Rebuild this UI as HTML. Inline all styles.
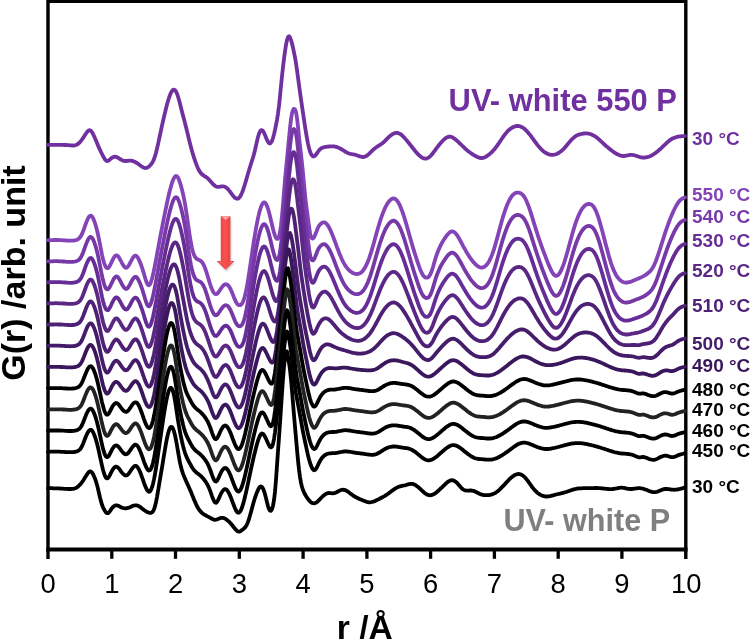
<!DOCTYPE html>
<html lang="en">
<head>
<meta charset="utf-8">
<title>G(r) PDF plot</title>
<style>
html,body{margin:0;padding:0;background:#fff;}
body{width:750px;height:639px;overflow:hidden;}
svg{display:block;}
svg text{font-family:"Liberation Sans",Arial,Helvetica,sans-serif;}
</style>
</head>
<body>
<svg width="750" height="639" viewBox="0 0 750 639">
<defs>
<linearGradient id="ag" x1="0" y1="0" x2="1" y2="0">
<stop offset="0" stop-color="#dc3a3c"/><stop offset="0.45" stop-color="#fb5050"/><stop offset="1" stop-color="#de3b3e"/>
</linearGradient>
<filter id="sh" x="-50%" y="-20%" width="200%" height="150%"><feGaussianBlur stdDeviation="1.2"/></filter>
</defs>
<rect width="750" height="639" fill="#fff"/>
<!-- frame -->
<g stroke="#000" fill="none">
<path d="M48 559 V1.2 H685.8 V559" stroke-width="3.4" stroke-linejoin="miter"/>
<line x1="46.2" y1="549.5" x2="687.5" y2="549.5" stroke-width="4"/>
<g stroke-width="3.3"><line x1="111.8" y1="549" x2="111.8" y2="558.8"/><line x1="175.5" y1="549" x2="175.5" y2="558.8"/><line x1="239.3" y1="549" x2="239.3" y2="558.8"/><line x1="303.1" y1="549" x2="303.1" y2="558.8"/><line x1="366.9" y1="549" x2="366.9" y2="558.8"/><line x1="430.6" y1="549" x2="430.6" y2="558.8"/><line x1="494.4" y1="549" x2="494.4" y2="558.8"/><line x1="558.2" y1="549" x2="558.2" y2="558.8"/><line x1="621.9" y1="549" x2="621.9" y2="558.8"/></g>
</g>
<g fill="none" stroke-width="3.8" stroke-linejoin="round" stroke-linecap="round">
<path d="M48 144.8L49 144.8L50 144.8L51 144.8L52 144.8L53 144.8L54 144.8L55 144.9L56 144.9L57 144.9L58 144.9L59 144.9L60 144.9L61 144.9L62 144.9L63 144.9L64 145L65 145L66 145L67 145.1L68 145.1L69 145.2L70 145.3L71 145.4L72 145.5L73 145.5L74 145.5L75 145.3L76 145L77 144.5L78 143.9L79 143.1L80 142.1L81 140.9L82 139.5L83 138.1L84 136.6L85 135L86 133.5L87 132.1L88 131L89 130.3L90 130.2L91 130.9L92 132.2L93 133.9L94 136L95 138.3L96 140.6L97 143L98 145.4L99 147.7L100 149.9L101 152L102 154L103 156L104 157.8L105 159.4L106 160.5L107 161L108 160.9L109 160.3L110 159.4L111 158.5L112 157.7L113 157.2L114 156.8L115 156.7L116 156.8L117 157.2L118 157.7L119 158.4L120 159L121 159.6L122 160.2L123 160.6L124 160.9L125 161L126 161L127 160.9L128 160.8L129 160.7L130 160.6L131 160.7L132 160.9L133 161.1L134 161.5L135 162L136 162.5L137 163.1L138 163.8L139 164.5L140 165.3L141 166L142 166.7L143 167.3L144 167.7L145 168L146 168L147 167.7L148 167.2L149 166.5L150 165.5L151 164.4L152 163.1L153 161.3L154 159.1L155 156.2L156 152.7L157 148.7L158 144.3L159 139.7L160 135L161 130.3L162 125.7L163 121.2L164 116.8L165 112.6L166 108.5L167 104.6L168 101L169 97.8L170 95L171 92.7L172 91L173 89.9L174 89.6L175 90.2L176 91.5L177 93.6L178 96.5L179 100L180 103.8L181 107.8L182 111.7L183 115.5L184 119.2L185 123.1L186 127L187 131.1L188 135.2L189 139.4L190 143.4L191 147.3L192 150.9L193 154.4L194 157.6L195 160.6L196 163.4L197 166L198 168.3L199 170.3L200 172L201 173.3L202 174.3L203 175.1L204 175.8L205 176.4L206 177L207 177.7L208 178.6L209 179.6L210 180.7L211 181.9L212 183L213 184.1L214 185L215 185.8L216 186.4L217 186.8L218 186.9L219 186.9L220 186.7L221 186.5L222 186.4L223 186.3L224 186.5L225 186.8L226 187.4L227 188.2L228 189.2L229 190.4L230 191.7L231 193L232 194.4L233 195.7L234 196.8L235 197.8L236 198.4L237 198.7L238 198.6L239 197.9L240 196.7L241 195L242 192.8L243 190.2L244 187.2L245 184L246 180.6L247 177.2L248 173.7L249 170.3L250 167L251 163.8L252 160.7L253 157.5L254 153.9L255 150L256 145.6L257 141.1L258 137L259 133.7L260 131.4L261 130.1L262 130.1L263 131L264 132.8L265 135L266 137.5L267 139.9L268 141.9L269 143.2L270 143.5L271 142.7L272 140.9L273 138L274 134.2L275 129.9L276 125.1L277 119.9L278 113.6L279 105.8L280 96.3L281 86.1L282 76.1L283 67.1L284 58.8L285 51.4L286 44.9L287 40L288 37.1L289 36.3L290 37.4L291 40L292 43.5L293 47.7L294 52.3L295 57.4L296 63.3L297 70.1L298 77.5L299 85L300 92.2L301 99.2L302 106.2L303 113L304 119.8L305 126.4L306 132.6L307 138.4L308 143.6L309 148L310 151.4L311 154L312 155.6L313 156.4L314 156.4L315 155.7L316 154.6L317 153.2L318 151.7L319 150.4L320 149.3L321 148.5L322 147.9L323 147.5L324 147.2L325 147L326 146.9L327 146.7L328 146.6L329 146.5L330 146.4L331 146.4L332 146.3L333 146.3L334 146.4L335 146.6L336 146.8L337 147.1L338 147.5L339 147.9L340 148.4L341 149L342 149.6L343 150.2L344 150.8L345 151.4L346 152.1L347 152.6L348 153.1L349 153.5L350 153.8L351 154L352 154.2L353 154.3L354 154.5L355 154.7L356 155L357 155.4L358 155.7L359 156.1L360 156.4L361 156.7L362 156.9L363 157L364 156.9L365 156.6L366 156.1L367 155.5L368 154.7L369 153.8L370 152.8L371 151.9L372 150.9L373 149.9L374 149L375 148.2L376 147.5L377 146.8L378 146.1L379 145.5L380 144.9L381 144.2L382 143.5L383 142.7L384 141.9L385 140.9L386 139.9L387 138.9L388 137.9L389 136.9L390 136L391 135.2L392 134.5L393 133.9L394 133.4L395 133.1L396 132.9L397 132.9L398 133L399 133.4L400 133.9L401 134.5L402 135.3L403 136.3L404 137.3L405 138.4L406 139.6L407 140.8L408 142L409 143.2L410 144.5L411 145.7L412 147L413 148.3L414 149.5L415 150.8L416 152L417 153.1L418 154.2L419 155.2L420 156.1L421 156.9L422 157.6L423 158.1L424 158.4L425 158.6L426 158.6L427 158.4L428 157.9L429 157.3L430 156.5L431 155.5L432 154.3L433 153L434 151.7L435 150.3L436 148.9L437 147.6L438 146.3L439 145L440 143.8L441 142.6L442 141.5L443 140.5L444 139.5L445 138.6L446 137.9L447 137.3L448 136.9L449 136.6L450 136.6L451 136.8L452 137.2L453 137.7L454 138.4L455 139.1L456 139.9L457 140.8L458 141.7L459 142.6L460 143.6L461 144.5L462 145.5L463 146.5L464 147.4L465 148.4L466 149.3L467 150.2L468 151L469 151.8L470 152.5L471 153.2L472 153.9L473 154.5L474 155.2L475 155.8L476 156.3L477 156.8L478 157.3L479 157.6L480 157.9L481 158L482 158L483 157.9L484 157.6L485 157.2L486 156.6L487 156L488 155.3L489 154.5L490 153.7L491 152.8L492 151.8L493 150.8L494 149.7L495 148.5L496 147.2L497 145.9L498 144.4L499 143L500 141.5L501 140L502 138.5L503 137.1L504 135.7L505 134.4L506 133.1L507 131.9L508 130.9L509 129.9L510 129.1L511 128.4L512 127.7L513 127.2L514 126.7L515 126.4L516 126.1L517 126L518 126L519 126.1L520 126.3L521 126.7L522 127.2L523 127.8L524 128.5L525 129.3L526 130.3L527 131.3L528 132.5L529 133.7L530 134.9L531 136.2L532 137.6L533 138.9L534 140.3L535 141.7L536 143L537 144.3L538 145.6L539 146.8L540 147.9L541 149L542 150L543 150.9L544 151.7L545 152.4L546 153L547 153.6L548 154L549 154.4L550 154.6L551 154.8L552 154.8L553 154.8L554 154.7L555 154.5L556 154.2L557 153.8L558 153.3L559 152.7L560 152L561 151.3L562 150.5L563 149.5L564 148.5L565 147.4L566 146.2L567 145L568 143.8L569 142.6L570 141.4L571 140.3L572 139.2L573 138.3L574 137.4L575 136.6L576 135.9L577 135.4L578 134.9L579 134.6L580 134.3L581 134L582 133.8L583 133.6L584 133.5L585 133.4L586 133.4L587 133.4L588 133.6L589 133.7L590 134L591 134.3L592 134.7L593 135.2L594 135.7L595 136.3L596 137L597 137.8L598 138.6L599 139.4L600 140.3L601 141.3L602 142.2L603 143.1L604 144.1L605 145L606 145.9L607 146.7L608 147.6L609 148.4L610 149.2L611 150L612 150.8L613 151.5L614 152.2L615 152.9L616 153.5L617 154L618 154.6L619 155L620 155.4L621 155.7L622 155.9L623 156L624 156L625 155.9L626 155.7L627 155.5L628 155.3L629 155.1L630 154.9L631 154.8L632 154.8L633 155L634 155.2L635 155.5L636 155.8L637 156.1L638 156.5L639 156.8L640 157.1L641 157.3L642 157.5L643 157.6L644 157.6L645 157.5L646 157.4L647 157.2L648 156.9L649 156.6L650 156.2L651 155.7L652 155.2L653 154.6L654 154L655 153.3L656 152.6L657 151.8L658 151L659 150.1L660 149.3L661 148.3L662 147.4L663 146.4L664 145.5L665 144.5L666 143.6L667 142.6L668 141.7L669 140.9L670 140.1L671 139.4L672 138.8L673 138.3L674 137.9L675 137.5L676 137.2L677 136.9L678 136.7L679 136.5L680 136.4L681 136.3L682 136.2L683 136.1L684 136.1L684.8 136.0" stroke="#7030a0"/>
<path d="M48 240.2L49 240.2L50 240.1L51 240.1L52 240.1L53 240.1L54 240L55 240L56 240L57 240L58 240L59 240.1L60 240.1L61 240.1L62 240.2L63 240.3L64 240.3L65 240.4L66 240.5L67 240.6L68 240.6L69 240.7L70 240.7L71 240.7L72 240.7L73 240.6L74 240.5L75 240.3L76 240.1L77 239.7L78 239.2L79 238.5L80 237.4L81 235.9L82 234L83 231.5L84 228.8L85 226L86 223.2L87 220.6L88 218.4L89 216.7L90 215.8L91 215.6L92 216.4L93 218.1L94 220.4L95 223.2L96 226.4L97 230.2L98 234.5L99 239.4L100 244.5L101 249.7L102 254.6L103 258.9L104 262.6L105 265.4L106 267.3L107 268.2L108 268.1L109 267.1L110 265.4L111 263.4L112 261.2L113 259.1L114 257.3L115 256L116 255.3L117 255.3L118 256.2L119 257.5L120 259.3L121 261.2L122 263.1L123 264.9L124 266.4L125 267.4L126 267.9L127 267.5L128 266.5L129 265L130 263.2L131 261.2L132 259.3L133 257.7L134 256.4L135 255.7L136 255.7L137 256.5L138 257.9L139 259.9L140 262.2L141 264.7L142 267.5L143 270.6L144 273.9L145 277.4L146 280.7L147 283.3L148 285L149 285.3L150 284.2L151 282L152 278.8L153 274.8L154 270.2L155 265.2L156 259.9L157 254.4L158 248.9L159 243.5L160 238.2L161 232.9L162 227.8L163 222.7L164 217.7L165 212.7L166 207.8L167 203L168 198.4L169 194L170 189.9L171 186.2L172 182.9L173 180.1L174 178L175 176.6L176 176L177 176.3L178 177.6L179 179.8L180 182.6L181 185.9L182 189.7L183 193.9L184 198.6L185 204L186 210L187 216.6L188 223.7L189 230.8L190 237.4L191 243.2L192 248.1L193 252L194 254.9L195 256.9L196 258.2L197 259L198 259.5L199 259.9L200 260.4L201 261.1L202 262.2L203 263.6L204 265.6L205 268L206 270.8L207 274L208 277.3L209 280.6L210 283.8L211 286.7L212 289.3L213 291.4L214 293L215 294L216 294.2L217 293.8L218 292.8L219 291.5L220 290L221 288.5L222 287.1L223 285.9L224 284.9L225 284.4L226 284.2L227 284.5L228 285.3L229 286.5L230 288.1L231 290.1L232 292.4L233 294.9L234 297.5L235 299.9L236 302L237 303.6L238 304.6L239 305.2L240 305.2L241 304.7L242 303.7L243 301.9L244 299.2L245 295.6L246 291.2L247 286L248 280.2L249 273.9L250 267.3L251 260.4L252 253.6L253 246.9L254 240.4L255 234.3L256 228.5L257 223.1L258 218.2L259 213.8L260 210L261 206.9L262 204.6L263 203L264 202.3L265 202.6L266 203.9L267 206L268 208.8L269 212.3L270 216.2L271 220.5L272 224.8L273 229L274 232.7L275 235.7L276 237.9L277 238.9L278 238.6L279 236.6L280 232.3L281 225.3L282 215.7L283 204.2L284 191.7L285 179.7L286 169.2L287 159.2L288 148.8L289 138.2L290 128L291 119.3L292 113.3L293 110L294 108.8L295 109.4L296 112.2L297 117.9L298 126.8L299 136.6L300 145.6L301 154.1L302 163.1L303 173.3L304 184L305 194.5L306 203.6L307 211.1L308 218.4L309 226.1L310 232.9L311 237.1L312 238.5L313 238.5L314 237.4L315 235.3L316 232.8L317 230.1L318 227.7L319 225.9L320 224.6L321 223.6L322 222.9L323 222.4L324 222.3L325 222.6L326 223.3L327 224.3L328 225.7L329 227.4L330 229.3L331 231.5L332 233.9L333 236.4L334 239L335 241.7L336 244.4L337 247.2L338 249.8L339 252.4L340 254.9L341 257.3L342 259.6L343 261.6L344 263.4L345 265.1L346 266.6L347 267.9L348 269.1L349 270.1L350 271L351 271.8L352 272.5L353 273L354 273.5L355 273.8L356 274L357 274L358 273.9L359 273.6L360 273.2L361 272.6L362 271.7L363 270.6L364 269.2L365 267.6L366 265.7L367 263.6L368 261.2L369 258.6L370 255.7L371 252.7L372 249.4L373 245.9L374 242.4L375 238.8L376 235.1L377 231.5L378 228L379 224.7L380 221.4L381 218.4L382 215.5L383 212.9L384 210.4L385 208.1L386 206.1L387 204.3L388 202.7L389 201.4L390 200.3L391 199.4L392 198.8L393 198.4L394 198.5L395 198.8L396 199.5L397 200.6L398 202L399 203.7L400 205.7L401 208.1L402 210.7L403 213.5L404 216.5L405 219.8L406 223.1L407 226.6L408 230.1L409 233.7L410 237.2L411 240.7L412 244.2L413 247.6L414 250.9L415 254.1L416 257.2L417 260.3L418 263.3L419 266.2L420 268.9L421 271.3L422 273.5L423 275.2L424 276.4L425 277.2L426 277.7L427 277.7L428 277.4L429 276.5L430 275L431 272.9L432 270.2L433 267L434 263.5L435 260L436 256.8L437 253.9L438 251.3L439 248.9L440 246.7L441 244.7L442 242.8L443 241.1L444 239.5L445 238L446 236.5L447 235.2L448 234L449 233L450 232.2L451 231.6L452 231.4L453 231.5L454 231.9L455 232.7L456 233.8L457 235.1L458 236.6L459 238.3L460 240.1L461 242L462 243.9L463 245.8L464 247.6L465 249.4L466 251.2L467 252.9L468 254.5L469 256.1L470 257.6L471 259L472 260.3L473 261.6L474 262.7L475 263.8L476 264.8L477 265.6L478 266.3L479 266.9L480 267.3L481 267.5L482 267.6L483 267.4L484 267L485 266.4L486 265.5L487 264.4L488 263L489 261.4L490 259.5L491 257.3L492 254.9L493 252.1L494 249.1L495 245.8L496 242.3L497 238.7L498 235L499 231.3L500 227.6L501 223.9L502 220.3L503 216.9L504 213.7L505 210.7L506 207.9L507 205.3L508 203L509 200.9L510 199L511 197.3L512 195.9L513 194.8L514 193.9L515 193.3L516 192.8L517 192.6L518 192.6L519 192.7L520 193L521 193.5L522 194.2L523 195.2L524 196.5L525 198.1L526 200L527 202.2L528 204.7L529 207.4L530 210.4L531 213.4L532 216.6L533 219.9L534 223.2L535 226.4L536 229.6L537 232.7L538 235.8L539 238.8L540 241.7L541 244.6L542 247.4L543 250.1L544 252.8L545 255.4L546 258L547 260.6L548 263.1L549 265.5L550 267.8L551 270L552 271.9L553 273.5L554 274.8L555 275.6L556 275.9L557 275.7L558 275.1L559 274L560 272.5L561 270.6L562 268.4L563 265.9L564 263.1L565 260L566 256.7L567 253.3L568 249.7L569 246.1L570 242.4L571 238.7L572 235.1L573 231.6L574 228.2L575 225L576 222L577 219.3L578 216.7L579 214.5L580 212.4L581 210.6L582 208.9L583 207.6L584 206.4L585 205.5L586 204.8L587 204.3L588 204L589 203.9L590 204L591 204.4L592 205L593 206L594 207.3L595 209L596 211.1L597 213.6L598 216.4L599 219.5L600 222.9L601 226.4L602 230.1L603 233.8L604 237.7L605 241.5L606 245.4L607 249.1L608 252.8L609 256.4L610 259.8L611 263L612 265.9L613 268.6L614 270.9L615 273L616 274.9L617 276.5L618 277.8L619 279L620 280L621 280.8L622 281.5L623 282L624 282.3L625 282.5L626 282.6L627 282.5L628 282.4L629 282.2L630 281.9L631 281.6L632 281.2L633 280.7L634 280.3L635 279.9L636 279.5L637 279.1L638 278.7L639 278.2L640 277.8L641 277.4L642 276.9L643 276.4L644 275.9L645 275.3L646 274.6L647 273.9L648 273.1L649 272.3L650 271.3L651 270.1L652 268.8L653 267.2L654 265.3L655 263.1L656 260.7L657 258L658 255.2L659 252.2L660 249.1L661 245.9L662 242.7L663 239.6L664 236.5L665 233.4L666 230.4L667 227.5L668 224.7L669 222L670 219.4L671 216.9L672 214.4L673 212.2L674 210L675 208L676 206.1L677 204.4L678 202.8L679 201.5L680 200.4L681 199.5L682 198.8L683 198.2L684 197.8L684.8 197.5" stroke="#8443b7"/>
<path d="M48 261.4L49 261.4L50 261.3L51 261.3L52 261.3L53 261.3L54 261.2L55 261.2L56 261.2L57 261.2L58 261.2L59 261.3L60 261.3L61 261.3L62 261.4L63 261.5L64 261.5L65 261.6L66 261.7L67 261.8L68 261.8L69 261.9L70 261.9L71 261.9L72 261.9L73 261.8L74 261.7L75 261.5L76 261.3L77 260.9L78 260.4L79 259.7L80 258.6L81 257.1L82 255.2L83 252.8L84 250L85 247.2L86 244.4L87 241.9L88 239.7L89 238L90 237L91 236.9L92 237.7L93 239.3L94 241.6L95 244.5L96 247.7L97 251.4L98 255.7L99 260.6L100 265.7L101 270.9L102 275.8L103 280.1L104 283.8L105 286.6L106 288.5L107 289.4L108 289.3L109 288.2L110 286.6L111 284.5L112 282.3L113 280.3L114 278.5L115 277.2L116 276.5L117 276.5L118 277.3L119 278.7L120 280.4L121 282.4L122 284.3L123 286L124 287.5L125 288.5L126 288.9L127 288.6L128 287.6L129 286.1L130 284.3L131 282.3L132 280.5L133 278.8L134 277.6L135 276.9L136 276.9L137 277.6L138 279.1L139 281L140 283.3L141 285.9L142 288.7L143 291.7L144 295L145 298.5L146 301.7L147 304.3L148 306L149 306.3L150 305.3L151 303.1L152 299.9L153 295.9L154 291.3L155 286.3L156 281L157 275.5L158 270L159 264.5L160 259.1L161 253.9L162 248.7L163 243.6L164 238.5L165 233.4L166 228.5L167 223.7L168 219.1L169 214.7L170 210.6L171 206.9L172 203.7L173 201L174 198.9L175 197.6L176 197.2L177 197.7L178 199.1L179 201.4L180 204.4L181 207.9L182 211.8L183 216.2L184 221.1L185 226.5L186 232.6L187 239.3L188 246.3L189 253.2L190 259.6L191 265.1L192 269.8L193 273.5L194 276.2L195 278.2L196 279.5L197 280.3L198 280.8L199 281.2L200 281.7L201 282.4L202 283.5L203 284.9L204 286.8L205 289.2L206 292L207 295.1L208 298.4L209 301.6L210 304.8L211 307.7L212 310.3L213 312.5L214 314.1L215 315.1L216 315.3L217 314.9L218 313.9L219 312.5L220 311L221 309.5L222 308.1L223 306.9L224 305.9L225 305.4L226 305.2L227 305.5L228 306.3L229 307.5L230 309.2L231 311.2L232 313.5L233 316L234 318.6L235 321L236 323.1L237 324.7L238 325.7L239 326.2L240 326.3L241 325.8L242 324.7L243 322.8L244 320.1L245 316.5L246 312L247 306.8L248 301L249 294.7L250 288.1L251 281.4L252 274.6L253 268L254 261.6L255 255.5L256 249.8L257 244.5L258 239.7L259 235.3L260 231.6L261 228.5L262 226.2L263 224.7L264 224.1L265 224.5L266 225.8L267 227.9L268 230.8L269 234.3L270 238.2L271 242.5L272 246.8L273 250.8L274 254.5L275 257.3L276 259.3L277 260.1L278 259.5L279 257L280 252.2L281 244.6L282 234.5L283 222.8L284 210.3L285 198.5L286 188L287 177.9L288 167.4L289 156.8L290 146.7L291 138.3L292 132.7L293 129.8L294 129L295 130L296 133.5L297 140.1L298 149.4L299 159.2L300 168L301 176.6L302 186L303 196.4L304 207.1L305 217.2L306 225.8L307 233.2L308 240.5L309 248.2L310 254.8L311 258.7L312 260.2L313 260.4L314 259.3L315 257.3L316 254.8L317 252.1L318 249.7L319 247.9L320 246.5L321 245.5L322 244.8L323 244.3L324 244.2L325 244.4L326 245.1L327 246.1L328 247.4L329 249L330 250.9L331 253L332 255.3L333 257.8L334 260.3L335 262.9L336 265.6L337 268.2L338 270.8L339 273.3L340 275.7L341 278L342 280.2L343 282.1L344 283.9L345 285.5L346 287L347 288.3L348 289.4L349 290.4L350 291.3L351 292.1L352 292.7L353 293.3L354 293.7L355 294L356 294.2L357 294.2L358 294.1L359 293.9L360 293.4L361 292.8L362 292L363 290.9L364 289.6L365 288L366 286.2L367 284.2L368 281.9L369 279.3L370 276.6L371 273.6L372 270.4L373 267.1L374 263.6L375 260.1L376 256.5L377 253.1L378 249.6L379 246.4L380 243.2L381 240.3L382 237.5L383 234.8L384 232.4L385 230.2L386 228.2L387 226.5L388 224.9L389 223.6L390 222.5L391 221.6L392 221L393 220.7L394 220.7L395 221.1L396 221.8L397 222.8L398 224.2L399 225.9L400 227.8L401 230.1L402 232.6L403 235.4L404 238.3L405 241.5L406 244.7L407 248.1L408 251.5L409 255L410 258.4L411 261.9L412 265.2L413 268.5L414 271.7L415 274.9L416 277.9L417 280.9L418 283.9L419 286.7L420 289.3L421 291.8L422 293.9L423 295.5L424 296.8L425 297.6L426 298L427 298L428 297.7L429 296.9L430 295.4L431 293.4L432 290.8L433 287.6L434 284.2L435 280.8L436 277.7L437 274.8L438 272.2L439 269.9L440 267.7L441 265.7L442 263.9L443 262.3L444 260.7L445 259.2L446 257.8L447 256.4L448 255.2L449 254.2L450 253.4L451 252.9L452 252.6L453 252.7L454 253.2L455 254L456 255L457 256.3L458 257.8L459 259.4L460 261.2L461 263L462 264.9L463 266.7L464 268.6L465 270.3L466 272.1L467 273.7L468 275.3L469 276.9L470 278.4L471 279.8L472 281.1L473 282.3L474 283.4L475 284.5L476 285.4L477 286.3L478 286.9L479 287.5L480 287.9L481 288.1L482 288.2L483 288L484 287.6L485 287L486 286.2L487 285.1L488 283.8L489 282.2L490 280.4L491 278.3L492 275.9L493 273.2L494 270.2L495 267.1L496 263.7L497 260.2L498 256.6L499 252.9L500 249.3L501 245.7L502 242.3L503 238.9L504 235.8L505 232.8L506 230.1L507 227.6L508 225.3L509 223.2L510 221.3L511 219.7L512 218.4L513 217.2L514 216.3L515 215.7L516 215.3L517 215L518 215L519 215.1L520 215.4L521 215.9L522 216.6L523 217.5L524 218.7L525 220.3L526 222.1L527 224.3L528 226.7L529 229.4L530 232.2L531 235.2L532 238.3L533 241.5L534 244.7L535 247.8L536 251L537 254L538 257L539 259.9L540 262.7L541 265.5L542 268.3L543 270.9L544 273.5L545 276.1L546 278.6L547 281.1L548 283.5L549 285.8L550 288.1L551 290.2L552 292L553 293.6L554 294.8L555 295.6L556 295.9L557 295.7L558 295.1L559 294L560 292.6L561 290.7L562 288.6L563 286.1L564 283.4L565 280.4L566 277.2L567 273.9L568 270.4L569 266.9L570 263.3L571 259.7L572 256.2L573 252.8L574 249.5L575 246.4L576 243.5L577 240.8L578 238.4L579 236.2L580 234.2L581 232.4L582 230.8L583 229.5L584 228.4L585 227.5L586 226.8L587 226.3L588 226L589 226L590 226.1L591 226.5L592 227.1L593 228L594 229.3L595 231L596 233L597 235.4L598 238.2L599 241.2L600 244.4L601 247.9L602 251.5L603 255.1L604 258.9L605 262.6L606 266.3L607 270L608 273.6L609 277.1L610 280.4L611 283.5L612 286.3L613 288.9L614 291.2L615 293.3L616 295L617 296.6L618 297.9L619 299.1L620 300L621 300.8L622 301.5L623 302L624 302.3L625 302.5L626 302.6L627 302.5L628 302.4L629 302.2L630 301.9L631 301.6L632 301.2L633 300.8L634 300.4L635 300L636 299.6L637 299.2L638 298.9L639 298.5L640 298.1L641 297.6L642 297.2L643 296.7L644 296.2L645 295.6L646 295L647 294.3L648 293.6L649 292.7L650 291.8L651 290.6L652 289.3L653 287.8L654 286L655 283.9L656 281.5L657 278.9L658 276.1L659 273.2L660 270.2L661 267.1L662 264L663 260.9L664 257.9L665 254.9L666 252.1L667 249.2L668 246.5L669 243.9L670 241.4L671 238.9L672 236.6L673 234.4L674 232.2L675 230.3L676 228.4L677 226.8L678 225.3L679 224L680 222.9L681 222L682 221.3L683 220.7L684 220.3L684.8 220.0" stroke="#7738a8"/>
<path d="M48 282.3L49 282.3L50 282.2L51 282.2L52 282.2L53 282.2L54 282.2L55 282.1L56 282.1L57 282.1L58 282.2L59 282.2L60 282.2L61 282.2L62 282.3L63 282.4L64 282.4L65 282.5L66 282.6L67 282.7L68 282.7L69 282.8L70 282.8L71 282.8L72 282.8L73 282.7L74 282.6L75 282.4L76 282.2L77 281.8L78 281.3L79 280.6L80 279.5L81 278.1L82 276.1L83 273.7L84 271L85 268.2L86 265.4L87 262.9L88 260.7L89 259.1L90 258.1L91 258L92 258.8L93 260.4L94 262.7L95 265.5L96 268.7L97 272.4L98 276.7L99 281.6L100 286.6L101 291.8L102 296.6L103 300.9L104 304.6L105 307.4L106 309.3L107 310.2L108 310.1L109 309L110 307.3L111 305.3L112 303.1L113 301.1L114 299.3L115 298L116 297.3L117 297.4L118 298.2L119 299.6L120 301.3L121 303.2L122 305L123 306.7L124 308.2L125 309.2L126 309.6L127 309.3L128 308.3L129 306.8L130 305L131 303.1L132 301.2L133 299.6L134 298.4L135 297.7L136 297.7L137 298.4L138 299.8L139 301.8L140 304.1L141 306.7L142 309.4L143 312.5L144 315.8L145 319.2L146 322.3L147 324.9L148 326.5L149 326.8L150 325.9L151 323.7L152 320.6L153 316.7L154 312.1L155 307.1L156 301.8L157 296.2L158 290.6L159 285L160 279.6L161 274.3L162 269.1L163 263.9L164 258.8L165 253.8L166 248.9L167 244.1L168 239.5L169 235.2L170 231.2L171 227.6L172 224.5L173 221.9L174 220.1L175 219L176 218.8L177 219.5L178 221.1L179 223.6L180 226.8L181 230.5L182 234.7L183 239.3L184 244.4L185 250L186 256L187 262.6L188 269.4L189 275.9L190 281.8L191 287L192 291.3L193 294.8L194 297.3L195 299.2L196 300.4L197 301.3L198 301.8L199 302.3L200 302.8L201 303.5L202 304.6L203 306L204 307.9L205 310.2L206 312.9L207 315.9L208 319.1L209 322.3L210 325.4L211 328.3L212 330.9L213 333.1L214 334.8L215 335.8L216 336L217 335.5L218 334.5L219 333.1L220 331.5L221 330L222 328.5L223 327.3L224 326.4L225 325.8L226 325.6L227 326L228 326.8L229 328.1L230 329.7L231 331.7L232 334.1L233 336.6L234 339.2L235 341.6L236 343.7L237 345.3L238 346.3L239 346.9L240 346.9L241 346.4L242 345.2L243 343.3L244 340.6L245 336.9L246 332.4L247 327.3L248 321.6L249 315.4L250 308.9L251 302.3L252 295.6L253 289.2L254 282.9L255 277L256 271.4L257 266.2L258 261.5L259 257.2L260 253.6L261 250.6L262 248.4L263 246.9L264 246.4L265 246.8L266 248.2L267 250.3L268 253.2L269 256.6L270 260.5L271 264.7L272 268.8L273 272.7L274 276L275 278.6L276 280.3L277 280.8L278 279.8L279 276.8L280 271.5L281 263.3L282 253L283 241.2L284 229L285 217.7L286 207.5L287 197.4L288 187L289 176.7L290 167.1L291 159.5L292 154.7L293 152.4L294 152.1L295 153.8L296 158L297 165.4L298 174.9L299 184.2L300 192.7L301 201.3L302 211L303 221.3L304 231.5L305 240.9L306 248.8L307 256L308 263.2L309 270.6L310 276.6L311 280.3L312 282.4L313 282.8L314 281.8L315 279.9L316 277.4L317 274.8L318 272.4L319 270.5L320 269.2L321 268.1L322 267.3L323 266.8L324 266.6L325 266.8L326 267.3L327 268.2L328 269.4L329 270.9L330 272.7L331 274.6L332 276.8L333 279L334 281.4L335 283.8L336 286.2L337 288.7L338 291L339 293.4L340 295.6L341 297.7L342 299.7L343 301.5L344 303.2L345 304.7L346 306L347 307.2L348 308.3L349 309.2L350 310.1L351 310.8L352 311.4L353 311.9L354 312.3L355 312.6L356 312.8L357 312.8L358 312.8L359 312.5L360 312.1L361 311.6L362 310.8L363 309.8L364 308.6L365 307.2L366 305.5L367 303.6L368 301.5L369 299.1L370 296.6L371 293.8L372 290.9L373 287.8L374 284.6L375 281.3L376 278L377 274.7L378 271.5L379 268.4L380 265.5L381 262.7L382 260L383 257.5L384 255.3L385 253.2L386 251.3L387 249.6L388 248.1L389 246.9L390 245.9L391 245.1L392 244.5L393 244.2L394 244.2L395 244.5L396 245.2L397 246.1L398 247.4L399 249L400 250.8L401 252.9L402 255.3L403 257.9L404 260.6L405 263.5L406 266.6L407 269.7L408 272.9L409 276.1L410 279.4L411 282.6L412 285.7L413 288.8L414 291.8L415 294.8L416 297.7L417 300.5L418 303.3L419 306L420 308.5L421 310.8L422 312.8L423 314.4L424 315.6L425 316.4L426 316.8L427 316.9L428 316.6L429 315.8L430 314.5L431 312.6L432 310.1L433 307.1L434 303.9L435 300.7L436 297.8L437 295.1L438 292.6L439 290.4L440 288.3L441 286.4L442 284.7L443 283L444 281.5L445 280.1L446 278.7L447 277.4L448 276.2L449 275.3L450 274.5L451 273.9L452 273.7L453 273.8L454 274.2L455 274.9L456 275.9L457 277.2L458 278.6L459 280.1L460 281.8L461 283.6L462 285.4L463 287.1L464 288.9L465 290.6L466 292.2L467 293.9L468 295.4L469 296.9L470 298.3L471 299.6L472 300.9L473 302.1L474 303.2L475 304.2L476 305.1L477 305.9L478 306.5L479 307L480 307.4L481 307.6L482 307.7L483 307.5L484 307.2L485 306.6L486 305.9L487 304.9L488 303.6L489 302.2L490 300.5L491 298.5L492 296.3L493 293.8L494 291L495 288L496 284.9L497 281.6L498 278.2L499 274.8L500 271.4L501 268L502 264.8L503 261.7L504 258.7L505 255.9L506 253.3L507 250.9L508 248.7L509 246.8L510 245L511 243.4L512 242.1L513 241L514 240.1L515 239.5L516 239L517 238.8L518 238.7L519 238.8L520 239L521 239.4L522 240L523 240.9L524 242.1L525 243.5L526 245.2L527 247.2L528 249.5L529 252L530 254.7L531 257.5L532 260.4L533 263.4L534 266.3L535 269.3L536 272.2L537 275.1L538 277.9L539 280.6L540 283.3L541 285.9L542 288.4L543 290.9L544 293.3L545 295.7L546 298.1L547 300.4L548 302.6L549 304.8L550 306.8L551 308.8L552 310.5L553 311.9L554 313L555 313.7L556 314L557 313.8L558 313.2L559 312.2L560 310.8L561 309.1L562 307.1L563 304.8L564 302.2L565 299.5L566 296.5L567 293.4L568 290.1L569 286.8L570 283.5L571 280.2L572 276.9L573 273.7L574 270.7L575 267.8L576 265.1L577 262.6L578 260.3L579 258.3L580 256.4L581 254.8L582 253.3L583 252.1L584 251.1L585 250.2L586 249.6L587 249.2L588 249L589 248.9L590 249L591 249.4L592 250L593 250.9L594 252.1L595 253.7L596 255.6L597 257.8L598 260.4L599 263.2L600 266.3L601 269.5L602 272.8L603 276.2L604 279.7L605 283.2L606 286.7L607 290.1L608 293.5L609 296.7L610 299.8L611 302.7L612 305.4L613 307.8L614 310L615 311.9L616 313.6L617 315L618 316.3L619 317.4L620 318.3L621 319L622 319.6L623 320.1L624 320.4L625 320.6L626 320.6L627 320.6L628 320.5L629 320.3L630 320.1L631 319.8L632 319.5L633 319.1L634 318.8L635 318.4L636 318.1L637 317.8L638 317.4L639 317.1L640 316.7L641 316.3L642 315.9L643 315.4L644 314.9L645 314.4L646 313.9L647 313.3L648 312.6L649 311.9L650 311L651 310L652 308.8L653 307.4L654 305.7L655 303.7L656 301.5L657 299.1L658 296.4L659 293.7L660 290.8L661 287.9L662 285L663 282.2L664 279.3L665 276.6L666 273.9L667 271.3L668 268.8L669 266.4L670 264.1L671 261.8L672 259.7L673 257.6L674 255.6L675 253.8L676 252L677 250.5L678 249L679 247.8L680 246.8L681 245.9L682 245.2L683 244.7L684 244.3L684.8 244.0" stroke="#672d96"/>
<path d="M48 303.4L49 303.4L50 303.3L51 303.3L52 303.3L53 303.3L54 303.3L55 303.2L56 303.2L57 303.2L58 303.3L59 303.3L60 303.3L61 303.3L62 303.4L63 303.5L64 303.5L65 303.6L66 303.7L67 303.8L68 303.8L69 303.9L70 303.9L71 303.9L72 303.9L73 303.8L74 303.7L75 303.5L76 303.3L77 302.9L78 302.4L79 301.7L80 300.7L81 299.2L82 297.3L83 294.9L84 292.3L85 289.5L86 286.8L87 284.3L88 282.2L89 280.6L90 279.7L91 279.6L92 280.3L93 281.9L94 284.2L95 287L96 290.2L97 293.8L98 298.1L99 302.8L100 307.8L101 312.8L102 317.5L103 321.8L104 325.4L105 328.2L106 330.1L107 331L108 330.9L109 329.8L110 328.1L111 326.1L112 324L113 322L114 320.3L115 319L116 318.4L117 318.5L118 319.3L119 320.6L120 322.2L121 324L122 325.7L123 327.4L124 328.7L125 329.6L126 329.9L127 329.6L128 328.7L129 327.2L130 325.5L131 323.7L132 321.9L133 320.4L134 319.2L135 318.5L136 318.5L137 319.2L138 320.6L139 322.5L140 324.8L141 327.4L142 330.3L143 333.3L144 336.5L145 339.7L146 342.7L147 345.1L148 346.6L149 347L150 346.2L151 344.2L152 341.3L153 337.5L154 333L155 328L156 322.5L157 316.8L158 311L159 305.3L160 299.8L161 294.4L162 289.2L163 284L164 279L165 274.1L166 269.3L167 264.7L168 260.3L169 256.2L170 252.5L171 249.3L172 246.6L173 244.4L174 243L175 242.4L176 242.6L177 243.7L178 245.8L179 248.7L180 252.3L181 256.5L182 261.2L183 266.2L184 271.5L185 277L186 282.9L187 288.9L188 294.9L189 300.5L190 305.5L191 309.8L192 313.5L193 316.4L194 318.7L195 320.4L196 321.6L197 322.5L198 323.2L199 323.8L200 324.4L201 325.2L202 326.3L203 327.7L204 329.4L205 331.5L206 334L207 336.8L208 339.7L209 342.7L210 345.7L211 348.6L212 351.3L213 353.5L214 355.3L215 356.3L216 356.6L217 356L218 354.9L219 353.4L220 351.7L221 350L222 348.5L223 347.2L224 346.2L225 345.7L226 345.5L227 345.9L228 346.8L229 348.2L230 349.9L231 352L232 354.4L233 357L234 359.5L235 361.9L236 364L237 365.6L238 366.7L239 367.2L240 367.2L241 366.7L242 365.4L243 363.5L244 360.7L245 357.1L246 352.7L247 347.8L248 342.3L249 336.3L250 330.1L251 323.8L252 317.5L253 311.4L254 305.5L255 299.9L256 294.6L257 289.6L258 285.1L259 281.1L260 277.7L261 274.8L262 272.7L263 271.4L264 271L265 271.6L266 273L267 275.1L268 277.9L269 281.1L270 284.7L271 288.4L272 292.1L273 295.4L274 298.1L275 300.1L276 301.2L277 301L278 299.3L279 295.5L280 289.2L281 280.5L282 270L283 258.4L284 246.9L285 236.5L286 226.8L287 217L288 207.3L289 197.9L290 189.7L291 183.8L292 180.5L293 179.3L294 180.1L295 183.2L296 188.9L297 197.1L298 205.9L299 214.1L300 222.2L301 231.1L302 240.8L303 250.4L304 259.3L305 267.2L306 274.4L307 281.1L308 287.8L309 294.1L310 299.5L311 303.7L312 306.8L313 307.6L314 307L315 305.3L316 303L317 300.5L318 298.1L319 296.2L320 294.7L321 293.6L322 292.6L323 292L324 291.7L325 291.6L326 292L327 292.6L328 293.5L329 294.6L330 296L331 297.5L332 299.2L333 301.1L334 302.9L335 304.9L336 306.8L337 308.7L338 310.6L339 312.4L340 314.1L341 315.8L342 317.3L343 318.7L344 320L345 321.2L346 322.3L347 323.3L348 324.1L349 324.9L350 325.6L351 326.2L352 326.8L353 327.2L354 327.6L355 327.8L356 328L357 328.1L358 328L359 327.9L360 327.6L361 327.2L362 326.6L363 325.8L364 324.9L365 323.7L366 322.4L367 320.9L368 319.3L369 317.4L370 315.4L371 313.2L372 310.8L373 308.4L374 305.8L375 303.1L376 300.4L377 297.7L378 295.1L379 292.5L380 290L381 287.6L382 285.4L383 283.3L384 281.3L385 279.5L386 277.9L387 276.5L388 275.2L389 274.2L390 273.3L391 272.6L392 272.1L393 271.9L394 271.9L395 272.1L396 272.7L397 273.5L398 274.5L399 275.8L400 277.3L401 279L402 280.9L403 283L404 285.3L405 287.6L406 290.1L407 292.6L408 295.2L409 297.8L410 300.5L411 303.1L412 305.7L413 308.3L414 310.9L415 313.4L416 315.9L417 318.3L418 320.7L419 323L420 325.2L421 327.2L422 328.9L423 330.4L424 331.5L425 332.2L426 332.6L427 332.8L428 332.5L429 331.9L430 330.8L431 329.2L432 327.2L433 324.7L434 322L435 319.3L436 316.8L437 314.5L438 312.4L439 310.4L440 308.6L441 306.9L442 305.3L443 303.8L444 302.4L445 301.1L446 299.8L447 298.7L448 297.6L449 296.7L450 296L451 295.5L452 295.2L453 295.2L454 295.6L455 296.2L456 297.1L457 298.1L458 299.4L459 300.7L460 302.2L461 303.8L462 305.3L463 306.9L464 308.5L465 310L466 311.5L467 312.9L468 314.3L469 315.7L470 317L471 318.2L472 319.3L473 320.3L474 321.3L475 322.2L476 323L477 323.6L478 324.2L479 324.6L480 325L481 325.1L482 325.2L483 325.1L484 324.8L485 324.4L486 323.8L487 323L488 322.1L489 320.9L490 319.5L491 317.9L492 316.1L493 314.1L494 311.8L495 309.4L496 306.8L497 304.1L498 301.3L499 298.5L500 295.6L501 292.8L502 290.1L503 287.5L504 285L505 282.6L506 280.4L507 278.3L508 276.4L509 274.7L510 273.1L511 271.7L512 270.5L513 269.5L514 268.7L515 268L516 267.5L517 267.2L518 267L519 267L520 267.1L521 267.3L522 267.8L523 268.5L524 269.4L525 270.5L526 271.9L527 273.6L528 275.5L529 277.5L530 279.7L531 282.1L532 284.5L533 286.9L534 289.4L535 291.9L536 294.3L537 296.7L538 299L539 301.2L540 303.4L541 305.5L542 307.6L543 309.7L544 311.6L545 313.6L546 315.5L547 317.3L548 319.1L549 320.8L550 322.4L551 323.9L552 325.3L553 326.4L554 327.2L555 327.7L556 327.9L557 327.7L558 327.2L559 326.3L560 325.2L561 323.7L562 322.1L563 320.2L564 318.1L565 315.8L566 313.4L567 310.8L568 308.2L569 305.5L570 302.8L571 300.1L572 297.4L573 294.8L574 292.4L575 290L576 287.9L577 285.9L578 284.1L579 282.4L580 281L581 279.7L582 278.5L583 277.6L584 276.8L585 276.1L586 275.7L587 275.4L588 275.2L589 275.2L590 275.4L591 275.7L592 276.3L593 277L594 278L595 279.3L596 280.9L597 282.8L598 284.9L599 287.2L600 289.7L601 292.3L602 295.1L603 297.9L604 300.7L605 303.6L606 306.5L607 309.3L608 312L609 314.7L610 317.2L611 319.6L612 321.8L613 323.8L614 325.6L615 327.2L616 328.6L617 329.8L618 330.8L619 331.7L620 332.5L621 333.1L622 333.6L623 334L624 334.2L625 334.4L626 334.5L627 334.5L628 334.4L629 334.3L630 334.1L631 333.9L632 333.7L633 333.5L634 333.3L635 333.1L636 332.9L637 332.8L638 332.6L639 332.3L640 332L641 331.7L642 331.3L643 330.9L644 330.6L645 330.2L646 329.8L647 329.4L648 329L649 328.5L650 327.9L651 327.1L652 326.2L653 325.1L654 323.7L655 322.1L656 320.3L657 318.2L658 316L659 313.7L660 311.3L661 308.9L662 306.5L663 304.1L664 301.8L665 299.6L666 297.5L667 295.4L668 293.5L669 291.6L670 289.8L671 288.1L672 286.4L673 284.7L674 283.1L675 281.5L676 280.1L677 278.7L678 277.5L679 276.4L680 275.5L681 274.8L682 274.2L683 273.7L684 273.4L684.8 273.1" stroke="#5a2785"/>
<path d="M48 324.6L49 324.6L50 324.5L51 324.5L52 324.5L53 324.5L54 324.5L55 324.4L56 324.4L57 324.4L58 324.5L59 324.5L60 324.5L61 324.5L62 324.6L63 324.7L64 324.7L65 324.8L66 324.9L67 324.9L68 325L69 325L70 325.1L71 325.1L72 325L73 325L74 324.9L75 324.7L76 324.4L77 324.1L78 323.6L79 322.9L80 322L81 320.6L82 318.7L83 316.4L84 313.8L85 311.1L86 308.4L87 306L88 304L89 302.4L90 301.5L91 301.4L92 302.2L93 303.8L94 306L95 308.7L96 311.8L97 315.5L98 319.6L99 324.3L100 329.1L101 334L102 338.6L103 342.8L104 346.4L105 349.1L106 351L107 351.9L108 351.6L109 350.5L110 348.8L111 346.7L112 344.7L113 342.8L114 341.2L115 340.1L116 339.5L117 339.7L118 340.4L119 341.6L120 343.1L121 344.8L122 346.4L123 347.9L124 349L125 349.8L126 350.1L127 349.8L128 348.9L129 347.6L130 346L131 344.2L132 342.6L133 341.1L134 340L135 339.4L136 339.3L137 340L138 341.4L139 343.2L140 345.5L141 348.1L142 350.9L143 353.9L144 357L145 360L146 362.7L147 364.9L148 366.4L149 366.9L150 366.2L151 364.5L152 361.7L153 358.1L154 353.6L155 348.5L156 342.8L157 336.9L158 330.8L159 324.8L160 319L161 313.3L162 307.7L163 302.3L164 297L165 291.8L166 286.9L167 282.2L168 277.9L169 274.1L170 270.7L171 268L172 265.9L173 264.7L174 264.3L175 264.8L176 266.4L177 269L178 272.6L179 277L180 282.1L181 287.6L182 293L183 298.4L184 303.7L185 309.1L186 314.3L187 319.3L188 323.8L189 327.8L190 331.3L191 334.3L192 336.9L193 339.1L194 340.9L195 342.3L196 343.4L197 344.3L198 345.1L199 345.7L200 346.5L201 347.3L202 348.4L203 349.7L204 351.2L205 353L206 355.1L207 357.5L208 360L209 362.8L210 365.6L211 368.5L212 371.3L213 373.7L214 375.5L215 376.7L216 377L217 376.4L218 375.1L219 373.4L220 371.5L221 369.6L222 368L223 366.6L224 365.6L225 365.1L226 365L227 365.6L228 366.6L229 368.1L230 370L231 372.2L232 374.7L233 377.3L234 379.9L235 382.3L236 384.3L237 385.9L238 386.9L239 387.4L240 387.3L241 386.4L242 384.8L243 382.5L244 379.4L245 375.6L246 371.2L247 366.3L248 361L249 355.4L250 349.7L251 343.9L252 338.3L253 332.7L254 327.4L255 322.4L256 317.6L257 313.2L258 309.1L259 305.5L260 302.4L261 300L262 298.3L263 297.4L264 297.5L265 298.4L266 300.2L267 302.5L268 305.3L269 308.5L270 311.7L271 314.8L272 317.6L273 319.8L274 321.2L275 321.6L276 320.7L277 318.1L278 313.2L279 306L280 297.1L281 287.2L282 277L283 266.8L284 257.3L285 248L286 239L287 230.1L288 221.7L289 214.9L290 210.5L291 208.6L292 209L293 211.8L294 217L295 224.1L296 232L297 239.7L298 247.6L299 256.1L300 264.8L301 272.9L302 280.1L303 286.8L304 293.2L305 299.4L306 305.3L307 311L308 316.3L309 321.3L310 325.8L311 329.7L312 332.6L313 333.8L314 333.7L315 332.4L316 330.5L317 328.3L318 326L319 324L320 322.4L321 321L322 319.9L323 319.1L324 318.6L325 318.3L326 318.3L327 318.5L328 318.9L329 319.6L330 320.4L331 321.4L332 322.5L333 323.6L334 324.8L335 326L336 327.2L337 328.4L338 329.5L339 330.6L340 331.6L341 332.6L342 333.5L343 334.3L344 335.1L345 335.9L346 336.5L347 337.2L348 337.8L349 338.3L350 338.8L351 339.3L352 339.7L353 340L354 340.3L355 340.5L356 340.7L357 340.8L358 340.8L359 340.8L360 340.6L361 340.4L362 340.1L363 339.6L364 339.1L365 338.4L366 337.6L367 336.7L368 335.7L369 334.6L370 333.3L371 331.9L372 330.4L373 328.8L374 327.1L375 325.4L376 323.5L377 321.7L378 319.8L379 318L380 316.2L381 314.4L382 312.8L383 311.2L384 309.7L385 308.3L386 307.1L387 306L388 305.1L389 304.3L390 303.6L391 303.1L392 302.7L393 302.5L394 302.5L395 302.7L396 303.1L397 303.6L398 304.4L399 305.2L400 306.3L401 307.4L402 308.7L403 310.1L404 311.6L405 313.1L406 314.7L407 316.4L408 318.1L409 319.9L410 321.7L411 323.6L412 325.4L413 327.3L414 329.1L415 331L416 332.8L417 334.7L418 336.5L419 338.3L420 340L421 341.6L422 343L423 344.1L424 345.1L425 345.7L426 346.2L427 346.4L428 346.3L429 345.9L430 345.1L431 344L432 342.6L433 340.8L434 338.9L435 336.9L436 335L437 333.3L438 331.6L439 330L440 328.6L441 327.2L442 325.8L443 324.6L444 323.4L445 322.2L446 321.1L447 320.1L448 319.2L449 318.4L450 317.7L451 317.3L452 317L453 317L454 317.2L455 317.6L456 318.3L457 319.1L458 320.1L459 321.2L460 322.4L461 323.7L462 324.9L463 326.2L464 327.5L465 328.8L466 330L467 331.3L468 332.4L469 333.5L470 334.6L471 335.6L472 336.6L473 337.4L474 338.2L475 338.9L476 339.5L477 340L478 340.4L479 340.8L480 341L481 341.1L482 341.2L483 341.2L484 341L485 340.8L486 340.4L487 340L488 339.4L489 338.6L490 337.8L491 336.7L492 335.5L493 334.1L494 332.6L495 330.9L496 329.1L497 327.3L498 325.3L499 323.3L500 321.3L501 319.3L502 317.4L503 315.5L504 313.6L505 311.9L506 310.2L507 308.6L508 307.1L509 305.8L510 304.5L511 303.3L512 302.3L513 301.4L514 300.6L515 299.9L516 299.4L517 299L518 298.6L519 298.4L520 298.3L521 298.4L522 298.6L523 299L524 299.5L525 300.3L526 301.3L527 302.4L528 303.7L529 305.1L530 306.7L531 308.3L532 310L533 311.7L534 313.4L535 315.2L536 316.9L537 318.5L538 320.1L539 321.7L540 323.2L541 324.7L542 326.1L543 327.5L544 328.8L545 330.1L546 331.3L547 332.5L548 333.6L549 334.7L550 335.7L551 336.6L552 337.4L553 338L554 338.5L555 338.7L556 338.7L557 338.5L558 338.1L559 337.4L560 336.6L561 335.6L562 334.4L563 333.1L564 331.7L565 330.1L566 328.5L567 326.8L568 325L569 323.2L570 321.4L571 319.6L572 317.8L573 316.1L574 314.5L575 312.9L576 311.5L577 310.3L578 309.1L579 308.1L580 307.1L581 306.3L582 305.6L583 305.1L584 304.6L585 304.3L586 304.1L587 303.9L588 303.9L589 304L590 304.2L591 304.5L592 304.9L593 305.5L594 306.2L595 307.2L596 308.3L597 309.6L598 311L599 312.6L600 314.3L601 316.1L602 318L603 319.9L604 321.8L605 323.8L606 325.7L607 327.6L608 329.5L609 331.3L610 333.1L611 334.7L612 336.2L613 337.6L614 338.8L615 340L616 340.9L617 341.8L618 342.5L619 343.2L620 343.7L621 344.1L622 344.5L623 344.8L624 345L625 345.1L626 345.2L627 345.2L628 345.2L629 345.2L630 345.1L631 345.1L632 345L633 345L634 345L635 345L636 345.1L637 345.1L638 345.1L639 345.1L640 344.9L641 344.6L642 344.3L643 344.1L644 343.9L645 343.8L646 343.6L647 343.5L648 343.4L649 343.2L650 342.9L651 342.5L652 342L653 341.3L654 340.5L655 339.4L656 338.1L657 336.6L658 335L659 333.4L660 331.7L661 329.9L662 328.2L663 326.6L664 325L665 323.6L666 322.2L667 321L668 319.8L669 318.7L670 317.7L671 316.7L672 315.7L673 314.6L674 313.5L675 312.4L676 311.3L677 310.2L678 309.3L679 308.5L680 307.8L681 307.2L682 306.7L683 306.4L684 306L684.8 305.8" stroke="#4e2176"/>
<path d="M48 345.8L49 345.8L50 345.7L51 345.7L52 345.7L53 345.7L54 345.7L55 345.7L56 345.7L57 345.7L58 345.7L59 345.7L60 345.7L61 345.8L62 345.8L63 345.9L64 345.9L65 346L66 346.1L67 346.1L68 346.2L69 346.2L70 346.3L71 346.2L72 346.2L73 346.2L74 346L75 345.9L76 345.6L77 345.3L78 344.8L79 344.2L80 343.2L81 341.9L82 340L83 337.8L84 335.2L85 332.6L86 330L87 327.7L88 325.7L89 324.2L90 323.4L91 323.3L92 324.1L93 325.6L94 327.7L95 330.4L96 333.5L97 337.1L98 341.2L99 345.7L100 350.4L101 355.2L102 359.7L103 363.8L104 367.3L105 370.1L106 371.9L107 372.7L108 372.4L109 371.2L110 369.4L111 367.4L112 365.4L113 363.6L114 362.1L115 361.1L116 360.7L117 360.8L118 361.5L119 362.7L120 364.1L121 365.6L122 367.1L123 368.3L124 369.4L125 370.1L126 370.3L127 370L128 369.1L129 367.9L130 366.4L131 364.8L132 363.3L133 361.9L134 360.8L135 360.2L136 360.2L137 360.8L138 362.1L139 363.9L140 366.2L141 368.8L142 371.6L143 374.6L144 377.5L145 380.3L146 382.9L147 384.9L148 386.2L149 386.7L150 386.2L151 384.7L152 382.2L153 378.7L154 374.3L155 369.1L156 363.2L157 357L158 350.6L159 344.2L160 337.9L161 331.7L162 325.7L163 319.8L164 314L165 308.5L166 303.4L167 298.6L168 294.4L169 290.8L170 288L171 285.9L172 284.7L173 284.6L174 285.6L175 287.7L176 291L177 295.5L178 301L179 307L180 313.1L181 318.7L182 324.1L183 329.3L184 334.2L185 338.8L186 343L187 346.8L188 350L189 352.7L190 355.2L191 357.4L192 359.5L193 361.3L194 362.9L195 364.2L196 365.2L197 366.1L198 367L199 367.7L200 368.5L201 369.5L202 370.5L203 371.7L204 373L205 374.6L206 376.3L207 378.3L208 380.5L209 382.9L210 385.6L211 388.4L212 391.2L213 393.8L214 395.8L215 397.1L216 397.4L217 396.7L218 395.2L219 393.3L220 391.2L221 389.2L222 387.4L223 386L224 385L225 384.5L226 384.6L227 385.2L228 386.4L229 388L230 390L231 392.4L232 394.9L233 397.6L234 400.2L235 402.6L236 404.6L237 406.2L238 407.3L239 407.6L240 407.2L241 406L242 404.2L243 401.6L244 398.3L245 394.5L246 390.2L247 385.5L248 380.5L249 375.3L250 370.1L251 364.9L252 359.8L253 354.8L254 350L255 345.5L256 341.1L257 337.1L258 333.4L259 330.1L260 327.4L261 325.3L262 324L263 323.6L264 324.1L265 325.4L266 327.3L267 329.6L268 332.1L269 334.7L270 337.2L271 339.4L272 341.1L273 342L274 341.8L275 340.1L276 336.5L277 330.6L278 322.9L279 314.1L280 304.7L281 295L282 285.3L283 275.9L284 266.9L285 258.2L286 249.9L287 242.3L288 236.5L289 233.3L290 232.9L291 235.4L292 240.1L293 246.4L294 253.6L295 261.3L296 269.2L297 277.5L298 285.7L299 293.1L300 299.5L301 305.3L302 311L303 316.9L304 322.7L305 328.1L306 333.1L307 337.9L308 342.7L309 347.5L310 351.9L311 355.6L312 358.4L313 359.9L314 360.3L315 359.5L316 358L317 356L318 353.9L319 351.8L320 350.1L321 348.5L322 347.2L323 346.2L324 345.5L325 344.9L326 344.5L327 344.4L328 344.4L329 344.6L330 344.8L331 345.2L332 345.7L333 346.2L334 346.7L335 347.1L336 347.6L337 348L338 348.4L339 348.7L340 349L341 349.4L342 349.6L343 349.9L344 350.2L345 350.5L346 350.8L347 351.1L348 351.4L349 351.7L350 352L351 352.3L352 352.6L353 352.8L354 353L355 353.2L356 353.4L357 353.5L358 353.6L359 353.6L360 353.7L361 353.6L362 353.5L363 353.4L364 353.3L365 353L366 352.8L367 352.5L368 352.1L369 351.7L370 351.2L371 350.7L372 350L373 349.3L374 348.5L375 347.6L376 346.7L377 345.7L378 344.6L379 343.5L380 342.3L381 341.2L382 340.1L383 339.1L384 338.1L385 337.2L386 336.3L387 335.6L388 334.9L389 334.4L390 334L391 333.6L392 333.4L393 333.2L394 333.2L395 333.3L396 333.5L397 333.8L398 334.2L399 334.7L400 335.3L401 335.9L402 336.5L403 337.2L404 337.9L405 338.6L406 339.4L407 340.2L408 341.1L409 342L410 343L411 344L412 345.1L413 346.2L414 347.4L415 348.6L416 349.8L417 351.1L418 352.3L419 353.6L420 354.8L421 355.9L422 357L423 357.9L424 358.7L425 359.3L426 359.7L427 360L428 360L429 359.9L430 359.5L431 358.8L432 358L433 356.9L434 355.7L435 354.5L436 353.3L437 352L438 350.9L439 349.7L440 348.6L441 347.5L442 346.4L443 345.4L444 344.3L445 343.4L446 342.4L447 341.6L448 340.8L449 340.1L450 339.5L451 339.1L452 338.8L453 338.7L454 338.8L455 339.1L456 339.6L457 340.1L458 340.9L459 341.7L460 342.6L461 343.5L462 344.5L463 345.6L464 346.6L465 347.6L466 348.6L467 349.6L468 350.5L469 351.4L470 352.3L471 353.1L472 353.8L473 354.5L474 355.1L475 355.6L476 356.1L477 356.4L478 356.7L479 356.9L480 357.1L481 357.2L482 357.2L483 357.2L484 357.2L485 357.2L486 357.1L487 356.9L488 356.7L489 356.4L490 356L491 355.5L492 354.9L493 354.2L494 353.4L495 352.5L496 351.5L497 350.4L498 349.3L499 348.2L500 347L501 345.8L502 344.6L503 343.5L504 342.3L505 341.1L506 340L507 338.9L508 337.8L509 336.8L510 335.9L511 334.9L512 334.1L513 333.3L514 332.5L515 331.8L516 331.2L517 330.7L518 330.3L519 329.9L520 329.6L521 329.5L522 329.4L523 329.5L524 329.7L525 330.1L526 330.6L527 331.2L528 331.9L529 332.7L530 333.6L531 334.5L532 335.5L533 336.5L534 337.5L535 338.5L536 339.4L537 340.4L538 341.3L539 342.2L540 343L541 343.8L542 344.6L543 345.3L544 346L545 346.6L546 347.2L547 347.7L548 348.1L549 348.5L550 348.9L551 349.2L552 349.5L553 349.6L554 349.7L555 349.7L556 349.5L557 349.3L558 349L559 348.5L560 348L561 347.4L562 346.8L563 346.1L564 345.3L565 344.5L566 343.6L567 342.7L568 341.8L569 340.9L570 340L571 339L572 338.2L573 337.3L574 336.6L575 335.8L576 335.2L577 334.6L578 334.1L579 333.7L580 333.3L581 333L582 332.8L583 332.6L584 332.5L585 332.4L586 332.4L587 332.5L588 332.6L589 332.7L590 333L591 333.2L592 333.6L593 333.9L594 334.4L595 335L596 335.6L597 336.3L598 337.1L599 338L600 338.9L601 339.9L602 340.9L603 341.9L604 342.9L605 343.9L606 345L607 346L608 347L609 348L610 348.9L611 349.8L612 350.6L613 351.4L614 352.1L615 352.7L616 353.3L617 353.8L618 354.2L619 354.6L620 354.9L621 355.2L622 355.4L623 355.6L624 355.7L625 355.8L626 355.9L627 355.9L628 356L629 356.1L630 356.1L631 356.2L632 356.3L633 356.5L634 356.7L635 357L636 357.3L637 357.5L638 357.7L639 357.8L640 357.7L641 357.5L642 357.3L643 357.2L644 357.2L645 357.3L646 357.4L647 357.6L648 357.8L649 357.9L650 358L651 358L652 357.9L653 357.6L654 357.2L655 356.6L656 355.9L657 355L658 354.1L659 353L660 352L661 350.9L662 350L663 349.1L664 348.3L665 347.6L666 347L667 346.5L668 346.2L669 345.9L670 345.6L671 345.3L672 345L673 344.5L674 343.9L675 343.2L676 342.5L677 341.8L678 341.1L679 340.5L680 340.1L681 339.6L682 339.3L683 339L684 338.7L684.8 338.5" stroke="#441c69"/>
<path d="M48 367L49 367L50 366.9L51 366.9L52 366.9L53 366.9L54 366.9L55 366.9L56 366.9L57 366.9L58 366.9L59 366.9L60 366.9L61 367L62 367L63 367.1L64 367.1L65 367.2L66 367.3L67 367.3L68 367.4L69 367.4L70 367.4L71 367.4L72 367.4L73 367.3L74 367.2L75 367.1L76 366.8L77 366.5L78 366.1L79 365.4L80 364.5L81 363.1L82 361.3L83 359.1L84 356.6L85 354L86 351.4L87 349.2L88 347.2L89 345.8L90 345L91 344.9L92 345.7L93 347.2L94 349.3L95 351.9L96 355L97 358.6L98 362.6L99 367L100 371.7L101 376.4L102 380.8L103 384.9L104 388.4L105 391.1L106 392.9L107 393.7L108 393.3L109 392.1L110 390.3L111 388.2L112 386.2L113 384.5L114 383.2L115 382.2L116 381.8L117 382L118 382.7L119 383.8L120 385.1L121 386.6L122 387.9L123 389.1L124 390.1L125 390.7L126 390.9L127 390.5L128 389.7L129 388.5L130 387.1L131 385.6L132 384.1L133 382.8L134 381.8L135 381.2L136 381.2L137 381.8L138 383.1L139 384.8L140 387.1L141 389.7L142 392.5L143 395.4L144 398.3L145 401L146 403.4L147 405.3L148 406.6L149 407.1L150 406.7L151 405.3L152 402.9L153 399.5L154 395.1L155 389.8L156 383.9L157 377.4L158 370.7L159 363.9L160 357.1L161 350.4L162 343.8L163 337.3L164 331L165 325.1L166 319.6L167 314.7L168 310.5L169 307.1L170 304.6L171 303.2L172 303L173 304L174 306.4L175 310.1L176 315.2L177 321.5L178 328.2L179 334.8L180 340.8L181 346.4L182 351.6L183 356.4L184 360.9L185 364.9L186 368.3L187 371.2L188 373.6L189 375.7L190 377.7L191 379.7L192 381.5L193 383.2L194 384.7L195 385.9L196 386.9L197 387.8L198 388.7L199 389.5L200 390.3L201 391.2L202 392.2L203 393.4L204 394.6L205 396L206 397.6L207 399.3L208 401.2L209 403.4L210 406L211 408.8L212 411.7L213 414.3L214 416.4L215 417.8L216 418.1L217 417.3L218 415.7L219 413.6L220 411.4L221 409.3L222 407.5L223 406L224 405.1L225 404.6L226 404.7L227 405.5L228 406.8L229 408.5L230 410.6L231 413L232 415.6L233 418.3L234 420.9L235 423.3L236 425.4L237 427L238 428L239 428.1L240 427.5L241 426.1L242 424L243 421.2L244 417.9L245 414L246 409.8L247 405.3L248 400.5L249 395.6L250 390.7L251 385.9L252 381.1L253 376.5L254 372L255 367.7L256 363.7L257 359.9L258 356.4L259 353.3L260 350.8L261 349.1L262 348.1L263 348L264 348.8L265 350.3L266 352.2L267 354.3L268 356.4L269 358.5L270 360.5L271 362L272 362.7L273 362.3L274 360.2L275 356L276 349.6L277 341.5L278 332.5L279 323.1L280 313.3L281 303.2L282 293.3L283 283.8L284 274.9L285 266.3L286 258.4L287 252.3L288 249.3L289 249.8L290 253.5L291 259.1L292 265.8L293 273.4L294 281.7L295 290.4L296 298.9L297 306.9L298 313.7L299 319.6L300 325.1L301 330.7L302 336.6L303 342.5L304 348L305 352.9L306 357.7L307 362.5L308 367.5L309 372.3L310 376.4L311 379.8L312 382.4L313 384L314 384.7L315 384.3L316 383L317 381.2L318 379.2L319 377.1L320 375.2L321 373.6L322 372.2L323 371.1L324 370.2L325 369.4L326 368.9L327 368.5L328 368.2L329 368.1L330 368L331 368.1L332 368.1L333 368.2L334 368.3L335 368.3L336 368.3L337 368.3L338 368.2L339 368.1L340 368L341 367.8L342 367.7L343 367.7L344 367.6L345 367.7L346 367.7L347 367.8L348 367.9L349 368.1L350 368.3L351 368.5L352 368.7L353 368.8L354 369L355 369.2L356 369.4L357 369.5L358 369.6L359 369.7L360 369.8L361 369.9L362 370L363 370.1L364 370.1L365 370.2L366 370.3L367 370.3L368 370.4L369 370.4L370 370.4L371 370.4L372 370.2L373 370.1L374 369.8L375 369.5L376 369.1L377 368.6L378 368L379 367.3L380 366.6L381 365.9L382 365.1L383 364.4L384 363.7L385 363L386 362.4L387 361.9L388 361.5L389 361.1L390 360.8L391 360.5L392 360.4L393 360.3L394 360.2L395 360.3L396 360.4L397 360.5L398 360.7L399 361L400 361.2L401 361.5L402 361.8L403 362L404 362.3L405 362.5L406 362.8L407 363L408 363.4L409 363.7L410 364.2L411 364.7L412 365.3L413 366L414 366.8L415 367.6L416 368.4L417 369.3L418 370.2L419 371.1L420 372L421 372.9L422 373.8L423 374.5L424 375.2L425 375.8L426 376.2L427 376.5L428 376.7L429 376.6L430 376.4L431 376.1L432 375.6L433 375L434 374.2L435 373.5L436 372.6L437 371.8L438 370.9L439 369.9L440 369L441 368.1L442 367.2L443 366.3L444 365.4L445 364.5L446 363.7L447 362.9L448 362.2L449 361.6L450 361L451 360.6L452 360.3L453 360.2L454 360.3L455 360.4L456 360.8L457 361.2L458 361.8L459 362.4L460 363.2L461 363.9L462 364.7L463 365.6L464 366.4L465 367.3L466 368.1L467 369L468 369.8L469 370.6L470 371.3L471 372L472 372.6L473 373.2L474 373.7L475 374.1L476 374.4L477 374.7L478 374.9L479 375L480 375.1L481 375.2L482 375.2L483 375.3L484 375.4L485 375.4L486 375.5L487 375.5L488 375.5L489 375.5L490 375.4L491 375.2L492 375L493 374.7L494 374.3L495 373.9L496 373.4L497 372.9L498 372.3L499 371.7L500 371L501 370.3L502 369.6L503 368.8L504 368.1L505 367.3L506 366.5L507 365.7L508 364.9L509 364.1L510 363.3L511 362.5L512 361.8L513 361L514 360.3L515 359.6L516 359L517 358.4L518 357.9L519 357.4L520 357L521 356.7L522 356.5L523 356.4L524 356.5L525 356.6L526 356.8L527 357.1L528 357.4L529 357.8L530 358.3L531 358.8L532 359.3L533 359.9L534 360.4L535 361L536 361.5L537 362L538 362.5L539 362.9L540 363.4L541 363.8L542 364.1L543 364.4L544 364.7L545 364.9L546 365.1L547 365.2L548 365.2L549 365.2L550 365.2L551 365.1L552 365L553 364.9L554 364.7L555 364.5L556 364.3L557 364.1L558 363.8L559 363.5L560 363.2L561 362.9L562 362.5L563 362.2L564 361.8L565 361.4L566 361.1L567 360.7L568 360.3L569 359.9L570 359.5L571 359.2L572 358.9L573 358.6L574 358.3L575 358.1L576 357.9L577 357.8L578 357.7L579 357.6L580 357.6L581 357.6L582 357.6L583 357.7L584 357.8L585 357.9L586 358L587 358.2L588 358.4L589 358.6L590 358.8L591 359.1L592 359.3L593 359.6L594 359.9L595 360.3L596 360.6L597 361L598 361.4L599 361.8L600 362.2L601 362.6L602 363.1L603 363.6L604 364L605 364.5L606 365L607 365.4L608 365.9L609 366.4L610 366.8L611 367.3L612 367.7L613 368.1L614 368.4L615 368.8L616 369.1L617 369.3L618 369.6L619 369.8L620 370L621 370.1L622 370.3L623 370.4L624 370.4L625 370.5L626 370.6L627 370.7L628 370.8L629 370.9L630 371.1L631 371.2L632 371.5L633 371.7L634 372.1L635 372.5L636 372.9L637 373.3L638 373.6L639 373.8L640 373.8L641 373.6L642 373.5L643 373.5L644 373.6L645 373.8L646 374.1L647 374.4L648 374.8L649 375.1L650 375.4L651 375.6L652 375.8L653 375.8L654 375.7L655 375.4L656 375L657 374.5L658 373.9L659 373.3L660 372.6L661 372L662 371.5L663 371L664 370.7L665 370.5L666 370.4L667 370.4L668 370.6L669 370.7L670 371L671 371.1L672 371.1L673 371L674 370.7L675 370.3L676 369.9L677 369.4L678 368.9L679 368.4L680 368.1L681 367.7L682 367.5L683 367.2L684 367L684.8 366.8" stroke="#3a175c"/>
<path d="M48 388.2L49 388.2L50 388.1L51 388.1L52 388.1L53 388.1L54 388.1L55 388.1L56 388.1L57 388.1L58 388.1L59 388.1L60 388.1L61 388.2L62 388.2L63 388.3L64 388.3L65 388.4L66 388.5L67 388.5L68 388.6L69 388.6L70 388.6L71 388.6L72 388.6L73 388.5L74 388.4L75 388.3L76 388L77 387.7L78 387.3L79 386.6L80 385.7L81 384.4L82 382.6L83 380.3L84 377.8L85 375.2L86 372.7L87 370.4L88 368.5L89 367.1L90 366.3L91 366.2L92 367L93 368.4L94 370.6L95 373.2L96 376.3L97 379.8L98 383.9L99 388.3L100 392.9L101 397.6L102 402.1L103 406.1L104 409.6L105 412.3L106 414.1L107 414.8L108 414.4L109 413.2L110 411.3L111 409.3L112 407.3L113 405.6L114 404.3L115 403.4L116 403L117 403.2L118 403.9L119 405L120 406.3L121 407.7L122 409L123 410.2L124 411.1L125 411.7L126 411.9L127 411.6L128 410.8L129 409.6L130 408.2L131 406.7L132 405.2L133 403.9L134 402.9L135 402.3L136 402.3L137 402.9L138 404.2L139 406L140 408.2L141 410.8L142 413.5L143 416.4L144 419.3L145 422L146 424.4L147 426.3L148 427.6L149 428.2L150 427.7L151 426.3L152 423.9L153 420.4L154 416L155 410.7L156 404.8L157 398.3L158 391.4L159 384.5L160 377.5L161 370.5L162 363.5L163 356.7L164 350.2L165 344.1L166 338.4L167 333.4L168 329.2L169 326L170 323.8L171 322.9L172 323.4L173 325.3L174 328.7L175 333.6L176 339.7L177 346.6L178 353.4L179 359.8L180 365.6L181 370.9L182 375.9L183 380.5L184 384.6L185 388.2L186 391.2L187 393.7L188 395.8L189 397.7L190 399.6L191 401.5L192 403.3L193 404.9L194 406.3L195 407.4L196 408.4L197 409.3L198 410.1L199 410.8L200 411.7L201 412.6L202 413.6L203 414.7L204 415.9L205 417.2L206 418.7L207 420.4L208 422.2L209 424.4L210 426.9L211 429.7L212 432.6L213 435.3L214 437.5L215 438.9L216 439.2L217 438.3L218 436.7L219 434.6L220 432.3L221 430.2L222 428.3L223 426.9L224 425.9L225 425.5L226 425.7L227 426.5L228 427.8L229 429.6L230 431.7L231 434.1L232 436.7L233 439.5L234 442.1L235 444.5L236 446.6L237 448.2L238 449.1L239 449.1L240 448.3L241 446.7L242 444.4L243 441.4L244 438L245 434.1L246 429.8L247 425.3L248 420.6L249 415.8L250 411L251 406.3L252 401.7L253 397.2L254 392.9L255 388.7L256 384.7L257 381L258 377.6L259 374.7L260 372.3L261 370.7L262 369.9L263 370.1L264 371.1L265 372.7L266 374.7L267 376.8L268 378.9L269 380.9L270 382.7L271 383.7L272 383.6L273 381.9L274 378.2L275 372.2L276 364.5L277 355.8L278 346.6L279 337L280 327L281 316.9L282 307L283 297.7L284 288.8L285 280.2L286 273L287 268.7L288 268.3L289 271.8L290 277.3L291 284L292 291.7L293 300.3L294 309.1L295 317.8L296 325.7L297 332.5L298 338.4L299 343.7L300 349.1L301 354.9L302 360.7L303 366.4L304 371.6L305 376.4L306 381.1L307 385.9L308 390.7L309 395.1L310 398.8L311 401.9L312 404.3L313 405.9L314 406.7L315 406.4L316 405.2L317 403.4L318 401.4L319 399.3L320 397.4L321 395.7L322 394.3L323 393.2L324 392.2L325 391.5L326 390.9L327 390.4L328 390.1L329 389.9L330 389.7L331 389.7L332 389.6L333 389.6L334 389.6L335 389.5L336 389.4L337 389.2L338 389L339 388.8L340 388.6L341 388.4L342 388.2L343 388L344 387.9L345 387.8L346 387.8L347 387.9L348 388L349 388.1L350 388.2L351 388.4L352 388.6L353 388.8L354 388.9L355 389.1L356 389.3L357 389.4L358 389.5L359 389.6L360 389.8L361 389.9L362 390L363 390.1L364 390.3L365 390.4L366 390.6L367 390.7L368 390.9L369 391L370 391.1L371 391.2L372 391.2L373 391.2L374 391L375 390.9L376 390.6L377 390.2L378 389.7L379 389.2L380 388.6L381 387.9L382 387.3L383 386.6L384 386L385 385.4L386 384.9L387 384.4L388 384L389 383.7L390 383.4L391 383.2L392 383L393 382.9L394 382.9L395 382.9L396 383L397 383.1L398 383.3L399 383.5L400 383.6L401 383.8L402 384L403 384.1L404 384.2L405 384.4L406 384.5L407 384.6L408 384.8L409 385.1L410 385.4L411 385.8L412 386.3L413 386.9L414 387.5L415 388.2L416 389L417 389.7L418 390.6L419 391.4L420 392.2L421 393.1L422 393.8L423 394.6L424 395.2L425 395.8L426 396.2L427 396.5L428 396.7L429 396.7L430 396.6L431 396.3L432 395.9L433 395.4L434 394.8L435 394.1L436 393.4L437 392.6L438 391.8L439 390.9L440 390L441 389.2L442 388.3L443 387.4L444 386.6L445 385.7L446 384.9L447 384.2L448 383.5L449 382.9L450 382.3L451 381.9L452 381.6L453 381.5L454 381.5L455 381.7L456 382L457 382.4L458 382.9L459 383.5L460 384.2L461 384.9L462 385.7L463 386.5L464 387.3L465 388.1L466 388.9L467 389.7L468 390.5L469 391.2L470 391.9L471 392.6L472 393.2L473 393.7L474 394.2L475 394.6L476 394.9L477 395.1L478 395.3L479 395.4L480 395.5L481 395.6L482 395.6L483 395.7L484 395.8L485 395.9L486 396L487 396.1L488 396.1L489 396.1L490 396.1L491 396L492 395.9L493 395.7L494 395.4L495 395.1L496 394.8L497 394.4L498 393.9L499 393.4L500 392.9L501 392.3L502 391.7L503 391.1L504 390.4L505 389.7L506 389L507 388.3L508 387.6L509 386.8L510 386.1L511 385.3L512 384.6L513 383.9L514 383.2L515 382.5L516 381.8L517 381.2L518 380.7L519 380.2L520 379.8L521 379.5L522 379.2L523 379.1L524 379L525 379.1L526 379.2L527 379.4L528 379.7L529 380L530 380.4L531 380.8L532 381.2L533 381.6L534 382.1L535 382.5L536 382.9L537 383.3L538 383.7L539 384L540 384.3L541 384.6L542 384.9L543 385.1L544 385.3L545 385.4L546 385.4L547 385.4L548 385.4L549 385.3L550 385.2L551 385L552 384.8L553 384.6L554 384.4L555 384.2L556 383.9L557 383.7L558 383.4L559 383.2L560 382.9L561 382.6L562 382.4L563 382.1L564 381.8L565 381.6L566 381.3L567 381.1L568 380.8L569 380.6L570 380.3L571 380.1L572 379.9L573 379.8L574 379.7L575 379.6L576 379.5L577 379.5L578 379.5L579 379.5L580 379.5L581 379.6L582 379.7L583 379.8L584 380L585 380.2L586 380.3L587 380.5L588 380.7L589 381L590 381.2L591 381.4L592 381.7L593 381.9L594 382.2L595 382.5L596 382.7L597 383L598 383.3L599 383.6L600 383.9L601 384.2L602 384.6L603 384.9L604 385.2L605 385.5L606 385.9L607 386.2L608 386.5L609 386.9L610 387.2L611 387.5L612 387.8L613 388.1L614 388.4L615 388.7L616 388.9L617 389.1L618 389.3L619 389.5L620 389.7L621 389.8L622 389.9L623 390L624 390L625 390.1L626 390.2L627 390.3L628 390.4L629 390.5L630 390.7L631 390.9L632 391.1L633 391.5L634 391.8L635 392.3L636 392.7L637 393.1L638 393.5L639 393.7L640 393.7L641 393.6L642 393.4L643 393.4L644 393.5L645 393.8L646 394.1L647 394.5L648 394.9L649 395.3L650 395.7L651 395.9L652 396.1L653 396.2L654 396.2L655 396L656 395.7L657 395.3L658 394.8L659 394.2L660 393.7L661 393.2L662 392.8L663 392.4L664 392.2L665 392.1L666 392.1L667 392.3L668 392.5L669 392.9L670 393.2L671 393.5L672 393.6L673 393.5L674 393.3L675 393L676 392.6L677 392.1L678 391.7L679 391.3L680 391L681 390.7L682 390.4L683 390.2L684 389.9L684.8 389.8" stroke="#000000"/>
<path d="M48 409.4L49 409.4L50 409.3L51 409.3L52 409.3L53 409.3L54 409.3L55 409.3L56 409.3L57 409.3L58 409.3L59 409.3L60 409.3L61 409.4L62 409.4L63 409.5L64 409.5L65 409.6L66 409.7L67 409.7L68 409.8L69 409.8L70 409.8L71 409.8L72 409.8L73 409.7L74 409.6L75 409.5L76 409.2L77 408.9L78 408.5L79 407.8L80 406.9L81 405.6L82 403.8L83 401.5L84 399L85 396.4L86 393.9L87 391.6L88 389.7L89 388.3L90 387.5L91 387.4L92 388.2L93 389.6L94 391.8L95 394.4L96 397.5L97 401L98 405.1L99 409.5L100 414.2L101 418.8L102 423.3L103 427.3L104 430.8L105 433.5L106 435.3L107 436L108 435.6L109 434.3L110 432.5L111 430.4L112 428.5L113 426.8L114 425.5L115 424.6L116 424.2L117 424.4L118 425.1L119 426.2L120 427.5L121 428.9L122 430.2L123 431.4L124 432.3L125 432.9L126 433.1L127 432.8L128 432L129 430.8L130 429.4L131 427.9L132 426.4L133 425.1L134 424.1L135 423.5L136 423.5L137 424.1L138 425.4L139 427.2L140 429.4L141 431.9L142 434.7L143 437.6L144 440.4L145 443.2L146 445.6L147 447.5L148 448.8L149 449.4L150 448.9L151 447.5L152 445L153 441.6L154 437.1L155 431.8L156 425.8L157 419.3L158 412.5L159 405.6L160 398.7L161 391.8L162 385L163 378.3L164 371.9L165 365.8L166 360.2L167 355.3L168 351.2L169 348.1L170 346.1L171 345.4L172 346.1L173 348.4L174 352.1L175 357.2L176 363.4L177 370.2L178 376.8L179 382.9L180 388.5L181 393.6L182 398.3L183 402.7L184 406.6L185 410L186 412.8L187 415.2L188 417.3L189 419.2L190 421.1L191 423L192 424.7L193 426.3L194 427.6L195 428.7L196 429.7L197 430.5L198 431.3L199 432.1L200 432.9L201 433.8L202 434.8L203 435.9L204 437.1L205 438.4L206 439.9L207 441.5L208 443.4L209 445.6L210 448L211 450.9L212 453.8L213 456.5L214 458.6L215 460L216 460.4L217 459.5L218 457.9L219 455.7L220 453.4L221 451.3L222 449.5L223 448.1L224 447.1L225 446.7L226 446.9L227 447.7L228 449L229 450.8L230 452.9L231 455.4L232 458L233 460.7L234 463.4L235 465.8L236 467.9L237 469.5L238 470.3L239 470.3L240 469.4L241 467.7L242 465.3L243 462.3L244 458.7L245 454.8L246 450.5L247 446L248 441.3L249 436.5L250 431.8L251 427.1L252 422.5L253 418L254 413.7L255 409.6L256 405.6L257 401.9L258 398.5L259 395.6L260 393.3L261 391.8L262 391.1L263 391.4L264 392.5L265 394.1L266 396.2L267 398.3L268 400.5L269 402.6L270 404.2L271 405L272 404.5L273 402.2L274 397.9L275 391.4L276 383.5L277 374.7L278 365.5L279 356L280 346L281 335.9L282 326.2L283 317L284 308.2L285 299.6L286 292.8L287 289.3L288 290.2L289 294.6L290 300.6L291 307.5L292 315.6L293 324.4L294 333.3L295 341.7L296 349.2L297 355.5L298 361.1L299 366.3L300 371.7L301 377.4L302 383.1L303 388.6L304 393.7L305 398.5L306 403.2L307 407.9L308 412.5L309 416.7L310 420.2L311 423.1L312 425.5L313 427.1L314 427.9L315 427.6L316 426.4L317 424.6L318 422.6L319 420.5L320 418.6L321 416.9L322 415.5L323 414.4L324 413.4L325 412.7L326 412.1L327 411.6L328 411.3L329 411.1L330 410.9L331 410.9L332 410.8L333 410.8L334 410.8L335 410.7L336 410.6L337 410.4L338 410.2L339 410L340 409.8L341 409.6L342 409.4L343 409.2L344 409.1L345 409L346 409L347 409.1L348 409.2L349 409.3L350 409.4L351 409.6L352 409.8L353 410L354 410.1L355 410.3L356 410.5L357 410.6L358 410.7L359 410.8L360 411L361 411.1L362 411.2L363 411.3L364 411.5L365 411.6L366 411.8L367 411.9L368 412.1L369 412.2L370 412.3L371 412.4L372 412.4L373 412.4L374 412.2L375 412.1L376 411.8L377 411.4L378 410.9L379 410.4L380 409.8L381 409.1L382 408.5L383 407.8L384 407.2L385 406.6L386 406.1L387 405.6L388 405.2L389 404.9L390 404.6L391 404.4L392 404.2L393 404.1L394 404.1L395 404.1L396 404.2L397 404.3L398 404.5L399 404.7L400 404.8L401 405L402 405.2L403 405.3L404 405.4L405 405.6L406 405.7L407 405.8L408 406L409 406.3L410 406.6L411 407L412 407.5L413 408.1L414 408.7L415 409.4L416 410.2L417 410.9L418 411.8L419 412.6L420 413.4L421 414.3L422 415L423 415.8L424 416.4L425 417L426 417.4L427 417.7L428 417.9L429 417.9L430 417.8L431 417.5L432 417.1L433 416.6L434 416L435 415.3L436 414.6L437 413.8L438 413L439 412.1L440 411.2L441 410.4L442 409.5L443 408.6L444 407.8L445 406.9L446 406.1L447 405.4L448 404.7L449 404.1L450 403.5L451 403.1L452 402.8L453 402.7L454 402.7L455 402.9L456 403.2L457 403.6L458 404.1L459 404.7L460 405.4L461 406.1L462 406.9L463 407.7L464 408.5L465 409.3L466 410.1L467 410.9L468 411.7L469 412.4L470 413.1L471 413.8L472 414.4L473 414.9L474 415.4L475 415.8L476 416.1L477 416.3L478 416.5L479 416.6L480 416.7L481 416.8L482 416.8L483 416.9L484 417L485 417.1L486 417.2L487 417.3L488 417.3L489 417.3L490 417.3L491 417.2L492 417.1L493 416.9L494 416.6L495 416.3L496 416L497 415.6L498 415.1L499 414.6L500 414.1L501 413.5L502 412.9L503 412.3L504 411.6L505 410.9L506 410.2L507 409.5L508 408.8L509 408L510 407.3L511 406.5L512 405.8L513 405.1L514 404.4L515 403.7L516 403L517 402.4L518 401.9L519 401.4L520 401L521 400.7L522 400.4L523 400.3L524 400.2L525 400.3L526 400.4L527 400.6L528 400.9L529 401.2L530 401.6L531 402L532 402.4L533 402.8L534 403.3L535 403.7L536 404.1L537 404.5L538 404.9L539 405.2L540 405.5L541 405.8L542 406.1L543 406.3L544 406.5L545 406.6L546 406.6L547 406.6L548 406.6L549 406.5L550 406.4L551 406.2L552 406L553 405.8L554 405.6L555 405.4L556 405.1L557 404.9L558 404.6L559 404.4L560 404.1L561 403.8L562 403.6L563 403.3L564 403L565 402.8L566 402.5L567 402.3L568 402L569 401.8L570 401.5L571 401.3L572 401.1L573 401L574 400.9L575 400.8L576 400.7L577 400.7L578 400.7L579 400.7L580 400.7L581 400.8L582 400.9L583 401L584 401.2L585 401.4L586 401.5L587 401.7L588 401.9L589 402.2L590 402.4L591 402.6L592 402.9L593 403.1L594 403.4L595 403.7L596 403.9L597 404.2L598 404.5L599 404.8L600 405.1L601 405.4L602 405.8L603 406.1L604 406.4L605 406.7L606 407.1L607 407.4L608 407.7L609 408.1L610 408.4L611 408.7L612 409L613 409.3L614 409.6L615 409.9L616 410.1L617 410.3L618 410.5L619 410.7L620 410.9L621 411L622 411.1L623 411.2L624 411.2L625 411.3L626 411.4L627 411.5L628 411.6L629 411.7L630 411.9L631 412.1L632 412.3L633 412.7L634 413L635 413.5L636 413.9L637 414.3L638 414.7L639 414.9L640 414.9L641 414.8L642 414.6L643 414.6L644 414.7L645 415L646 415.3L647 415.7L648 416.1L649 416.5L650 416.9L651 417.1L652 417.3L653 417.4L654 417.4L655 417.2L656 416.9L657 416.5L658 416L659 415.4L660 414.9L661 414.4L662 414L663 413.6L664 413.4L665 413.3L666 413.3L667 413.5L668 413.7L669 414.1L670 414.4L671 414.7L672 414.8L673 414.7L674 414.5L675 414.2L676 413.8L677 413.3L678 412.9L679 412.5L680 412.2L681 411.9L682 411.6L683 411.4L684 411.1L684.8 411.0" stroke="#222222"/>
<path d="M48 430.6L49 430.6L50 430.5L51 430.5L52 430.5L53 430.5L54 430.5L55 430.5L56 430.5L57 430.5L58 430.5L59 430.5L60 430.5L61 430.6L62 430.6L63 430.7L64 430.7L65 430.8L66 430.9L67 430.9L68 431L69 431L70 431L71 431L72 431L73 430.9L74 430.8L75 430.7L76 430.4L77 430.1L78 429.7L79 429L80 428.1L81 426.8L82 425L83 422.7L84 420.2L85 417.6L86 415.1L87 412.8L88 410.9L89 409.5L90 408.7L91 408.6L92 409.4L93 410.8L94 413L95 415.6L96 418.7L97 422.2L98 426.3L99 430.7L100 435.4L101 440L102 444.5L103 448.6L104 452L105 454.8L106 456.6L107 457.2L108 456.8L109 455.5L110 453.7L111 451.6L112 449.6L113 448L114 446.6L115 445.8L116 445.4L117 445.6L118 446.3L119 447.4L120 448.7L121 450.1L122 451.4L123 452.6L124 453.5L125 454.1L126 454.3L127 454L128 453.2L129 452L130 450.6L131 449.1L132 447.6L133 446.3L134 445.3L135 444.7L136 444.7L137 445.4L138 446.6L139 448.4L140 450.6L141 453.1L142 455.9L143 458.7L144 461.6L145 464.3L146 466.7L147 468.7L148 470L149 470.6L150 470.2L151 468.7L152 466.2L153 462.7L154 458.2L155 452.9L156 446.9L157 440.4L158 433.6L159 426.7L160 419.7L161 412.8L162 406L163 399.3L164 392.8L165 386.7L166 381.2L167 376.2L168 372.1L169 369L170 367.1L171 366.6L172 367.6L173 370.1L174 374.1L175 379.4L176 385.8L177 392.6L178 399.2L179 405.1L180 410.6L181 415.6L182 420.3L183 424.5L184 428.3L185 431.6L186 434.3L187 436.7L188 438.7L189 440.6L190 442.5L191 444.3L192 446.1L193 447.6L194 448.9L195 450L196 450.9L197 451.8L198 452.5L199 453.3L200 454.1L201 455L202 456L203 457.1L204 458.3L205 459.6L206 461.1L207 462.7L208 464.6L209 466.7L210 469.2L211 472L212 474.9L213 477.6L214 479.8L215 481.2L216 481.6L217 480.7L218 479.1L219 476.9L220 474.6L221 472.5L222 470.7L223 469.3L224 468.3L225 467.9L226 468.1L227 468.9L228 470.3L229 472L230 474.2L231 476.6L232 479.3L233 482L234 484.6L235 487.1L236 489.2L237 490.7L238 491.5L239 491.5L240 490.5L241 488.8L242 486.3L243 483.2L244 479.6L245 475.6L246 471.3L247 466.8L248 462.1L249 457.3L250 452.6L251 447.9L252 443.4L253 438.9L254 434.6L255 430.5L256 426.6L257 422.9L258 419.5L259 416.7L260 414.4L261 412.9L262 412.3L263 412.6L264 413.8L265 415.5L266 417.6L267 419.8L268 422L269 424.1L270 425.7L271 426.2L272 425.4L273 422.7L274 417.9L275 411.1L276 403L277 394.2L278 385L279 375.5L280 365.6L281 355.5L282 345.9L283 336.8L284 327.9L285 319.5L286 313.1L287 310.3L288 312.2L289 317.2L290 323.3L291 330.6L292 339L293 347.9L294 356.7L295 364.8L296 371.9L297 378L298 383.3L299 388.5L300 393.9L301 399.5L302 405.2L303 410.6L304 415.6L305 420.3L306 425L307 429.7L308 434.1L309 438.1L310 441.5L311 444.4L312 446.7L313 448.3L314 449.1L315 448.8L316 447.7L317 445.9L318 443.8L319 441.7L320 439.8L321 438.1L322 436.7L323 435.6L324 434.6L325 433.9L326 433.3L327 432.8L328 432.5L329 432.3L330 432.1L331 432.1L332 432L333 432L334 432L335 431.9L336 431.8L337 431.6L338 431.4L339 431.2L340 431L341 430.8L342 430.6L343 430.4L344 430.3L345 430.2L346 430.2L347 430.3L348 430.4L349 430.5L350 430.6L351 430.8L352 431L353 431.2L354 431.3L355 431.5L356 431.7L357 431.8L358 431.9L359 432L360 432.2L361 432.3L362 432.4L363 432.5L364 432.7L365 432.8L366 433L367 433.1L368 433.3L369 433.4L370 433.5L371 433.6L372 433.6L373 433.6L374 433.4L375 433.3L376 433L377 432.6L378 432.1L379 431.6L380 431L381 430.3L382 429.7L383 429L384 428.4L385 427.8L386 427.3L387 426.8L388 426.4L389 426.1L390 425.8L391 425.6L392 425.4L393 425.3L394 425.3L395 425.3L396 425.4L397 425.5L398 425.7L399 425.9L400 426L401 426.2L402 426.4L403 426.5L404 426.6L405 426.8L406 426.9L407 427L408 427.2L409 427.5L410 427.8L411 428.2L412 428.7L413 429.3L414 429.9L415 430.6L416 431.4L417 432.1L418 433L419 433.8L420 434.6L421 435.5L422 436.2L423 437L424 437.6L425 438.2L426 438.6L427 438.9L428 439.1L429 439.1L430 439L431 438.7L432 438.3L433 437.8L434 437.2L435 436.5L436 435.8L437 435L438 434.2L439 433.3L440 432.4L441 431.6L442 430.7L443 429.8L444 429L445 428.1L446 427.3L447 426.6L448 425.9L449 425.3L450 424.7L451 424.3L452 424L453 423.9L454 423.9L455 424.1L456 424.4L457 424.8L458 425.3L459 425.9L460 426.6L461 427.3L462 428.1L463 428.9L464 429.7L465 430.5L466 431.3L467 432.1L468 432.9L469 433.6L470 434.3L471 435L472 435.6L473 436.1L474 436.6L475 437L476 437.3L477 437.5L478 437.7L479 437.8L480 437.9L481 438L482 438L483 438.1L484 438.2L485 438.3L486 438.4L487 438.5L488 438.5L489 438.5L490 438.5L491 438.4L492 438.3L493 438.1L494 437.8L495 437.5L496 437.2L497 436.8L498 436.3L499 435.8L500 435.3L501 434.7L502 434.1L503 433.5L504 432.8L505 432.1L506 431.4L507 430.7L508 430L509 429.2L510 428.5L511 427.7L512 427L513 426.3L514 425.6L515 424.9L516 424.2L517 423.6L518 423.1L519 422.6L520 422.2L521 421.9L522 421.6L523 421.5L524 421.4L525 421.5L526 421.6L527 421.8L528 422.1L529 422.4L530 422.8L531 423.2L532 423.6L533 424L534 424.5L535 424.9L536 425.3L537 425.7L538 426.1L539 426.4L540 426.7L541 427L542 427.3L543 427.5L544 427.7L545 427.8L546 427.8L547 427.8L548 427.8L549 427.7L550 427.6L551 427.4L552 427.2L553 427L554 426.8L555 426.6L556 426.3L557 426.1L558 425.8L559 425.6L560 425.3L561 425L562 424.8L563 424.5L564 424.2L565 424L566 423.7L567 423.5L568 423.2L569 423L570 422.7L571 422.5L572 422.3L573 422.2L574 422.1L575 422L576 421.9L577 421.9L578 421.9L579 421.9L580 421.9L581 422L582 422.1L583 422.2L584 422.4L585 422.6L586 422.7L587 422.9L588 423.1L589 423.4L590 423.6L591 423.8L592 424.1L593 424.3L594 424.6L595 424.9L596 425.1L597 425.4L598 425.7L599 426L600 426.3L601 426.6L602 427L603 427.3L604 427.6L605 427.9L606 428.3L607 428.6L608 428.9L609 429.3L610 429.6L611 429.9L612 430.2L613 430.5L614 430.8L615 431.1L616 431.3L617 431.5L618 431.7L619 431.9L620 432.1L621 432.2L622 432.3L623 432.4L624 432.4L625 432.5L626 432.6L627 432.7L628 432.8L629 432.9L630 433.1L631 433.3L632 433.5L633 433.9L634 434.2L635 434.7L636 435.1L637 435.5L638 435.9L639 436.1L640 436.1L641 436L642 435.8L643 435.8L644 435.9L645 436.2L646 436.5L647 436.9L648 437.3L649 437.7L650 438.1L651 438.3L652 438.5L653 438.6L654 438.6L655 438.4L656 438.1L657 437.7L658 437.2L659 436.6L660 436.1L661 435.6L662 435.2L663 434.8L664 434.6L665 434.5L666 434.5L667 434.7L668 434.9L669 435.3L670 435.6L671 435.9L672 436L673 435.9L674 435.7L675 435.4L676 435L677 434.5L678 434.1L679 433.7L680 433.4L681 433.1L682 432.8L683 432.6L684 432.3L684.8 432.2" stroke="#000000"/>
<path d="M48 451.8L49 451.8L50 451.7L51 451.7L52 451.7L53 451.7L54 451.7L55 451.7L56 451.7L57 451.7L58 451.7L59 451.7L60 451.7L61 451.8L62 451.8L63 451.9L64 451.9L65 452L66 452.1L67 452.1L68 452.2L69 452.2L70 452.2L71 452.2L72 452.2L73 452.1L74 452L75 451.9L76 451.6L77 451.3L78 450.9L79 450.2L80 449.3L81 448L82 446.2L83 443.9L84 441.4L85 438.8L86 436.3L87 434L88 432.1L89 430.7L90 429.9L91 429.8L92 430.6L93 432L94 434.2L95 436.8L96 439.9L97 443.4L98 447.5L99 451.9L100 456.6L101 461.2L102 465.7L103 469.8L104 473.2L105 476L106 477.8L107 478.4L108 478L109 476.7L110 474.9L111 472.8L112 470.8L113 469.2L114 467.8L115 467L116 466.6L117 466.8L118 467.5L119 468.6L120 469.9L121 471.3L122 472.6L123 473.8L124 474.7L125 475.3L126 475.5L127 475.2L128 474.4L129 473.2L130 471.8L131 470.3L132 468.8L133 467.5L134 466.5L135 465.9L136 465.9L137 466.6L138 467.8L139 469.6L140 471.8L141 474.3L142 477.1L143 479.9L144 482.8L145 485.5L146 487.9L147 489.9L148 491.2L149 491.8L150 491.4L151 489.9L152 487.4L153 483.9L154 479.4L155 474.1L156 468.1L157 461.6L158 454.8L159 447.9L160 440.9L161 434L162 427.2L163 420.5L164 414L165 407.9L166 402.4L167 397.4L168 393.3L169 390.2L170 388.3L171 387.8L172 388.8L173 391.3L174 395.3L175 400.6L176 407L177 413.8L178 420.4L179 426.3L180 431.8L181 436.8L182 441.5L183 445.7L184 449.5L185 452.8L186 455.5L187 457.9L188 459.9L189 461.8L190 463.7L191 465.5L192 467.3L193 468.8L194 470.1L195 471.2L196 472.1L197 473L198 473.7L199 474.5L200 475.3L201 476.2L202 477.2L203 478.3L204 479.5L205 480.8L206 482.3L207 483.9L208 485.8L209 487.9L210 490.4L211 493.2L212 496.1L213 498.8L214 501L215 502.4L216 502.8L217 501.9L218 500.3L219 498.1L220 495.8L221 493.7L222 491.9L223 490.5L224 489.5L225 489.1L226 489.3L227 490.1L228 491.5L229 493.2L230 495.4L231 497.8L232 500.5L233 503.2L234 505.8L235 508.3L236 510.4L237 511.9L238 512.7L239 512.7L240 511.7L241 510L242 507.5L243 504.4L244 500.8L245 496.8L246 492.5L247 488L248 483.3L249 478.5L250 473.8L251 469.1L252 464.6L253 460.1L254 455.8L255 451.7L256 447.8L257 444.1L258 440.7L259 437.9L260 435.6L261 434.1L262 433.5L263 433.8L264 435L265 436.7L266 438.8L267 441L268 443.2L269 445.3L270 446.9L271 447.4L272 446.6L273 443.9L274 439.1L275 432.3L276 424.2L277 415.4L278 406.2L279 396.7L280 386.8L281 376.7L282 367.1L283 358L284 349.1L285 340.7L286 334.3L287 331.5L288 333.4L289 338.4L290 344.5L291 351.8L292 360.2L293 369.1L294 377.9L295 386L296 393.1L297 399.2L298 404.5L299 409.7L300 415.1L301 420.7L302 426.4L303 431.8L304 436.8L305 441.5L306 446.2L307 450.9L308 455.3L309 459.3L310 462.7L311 465.6L312 467.9L313 469.5L314 470.3L315 470L316 468.9L317 467.1L318 465L319 462.9L320 461L321 459.3L322 457.9L323 456.8L324 455.8L325 455.1L326 454.5L327 454L328 453.7L329 453.5L330 453.3L331 453.3L332 453.2L333 453.2L334 453.2L335 453.1L336 453L337 452.8L338 452.6L339 452.4L340 452.2L341 452L342 451.8L343 451.6L344 451.5L345 451.4L346 451.4L347 451.5L348 451.6L349 451.7L350 451.8L351 452L352 452.2L353 452.4L354 452.5L355 452.7L356 452.9L357 453L358 453.1L359 453.2L360 453.4L361 453.5L362 453.6L363 453.7L364 453.9L365 454L366 454.2L367 454.3L368 454.5L369 454.6L370 454.7L371 454.8L372 454.8L373 454.8L374 454.6L375 454.5L376 454.2L377 453.8L378 453.3L379 452.8L380 452.2L381 451.5L382 450.9L383 450.2L384 449.6L385 449L386 448.5L387 448L388 447.6L389 447.3L390 447L391 446.8L392 446.6L393 446.5L394 446.5L395 446.5L396 446.6L397 446.7L398 446.9L399 447.1L400 447.2L401 447.4L402 447.6L403 447.7L404 447.8L405 448L406 448.1L407 448.2L408 448.4L409 448.7L410 449L411 449.4L412 449.9L413 450.5L414 451.1L415 451.8L416 452.6L417 453.3L418 454.2L419 455L420 455.8L421 456.7L422 457.4L423 458.2L424 458.8L425 459.4L426 459.8L427 460.1L428 460.3L429 460.3L430 460.2L431 459.9L432 459.5L433 459L434 458.4L435 457.7L436 457L437 456.2L438 455.4L439 454.5L440 453.6L441 452.8L442 451.9L443 451L444 450.2L445 449.3L446 448.5L447 447.8L448 447.1L449 446.5L450 445.9L451 445.5L452 445.2L453 445.1L454 445.1L455 445.3L456 445.6L457 446L458 446.5L459 447.1L460 447.8L461 448.5L462 449.3L463 450.1L464 450.9L465 451.7L466 452.5L467 453.3L468 454.1L469 454.8L470 455.5L471 456.2L472 456.8L473 457.3L474 457.8L475 458.2L476 458.5L477 458.7L478 458.9L479 459L480 459.1L481 459.2L482 459.2L483 459.3L484 459.4L485 459.5L486 459.6L487 459.7L488 459.7L489 459.7L490 459.7L491 459.6L492 459.5L493 459.3L494 459L495 458.7L496 458.4L497 458L498 457.5L499 457L500 456.5L501 455.9L502 455.3L503 454.7L504 454L505 453.3L506 452.6L507 451.9L508 451.2L509 450.4L510 449.7L511 448.9L512 448.2L513 447.5L514 446.8L515 446.1L516 445.4L517 444.8L518 444.3L519 443.8L520 443.4L521 443.1L522 442.8L523 442.7L524 442.6L525 442.7L526 442.8L527 443L528 443.3L529 443.6L530 444L531 444.4L532 444.8L533 445.2L534 445.7L535 446.1L536 446.5L537 446.9L538 447.3L539 447.6L540 447.9L541 448.2L542 448.5L543 448.7L544 448.9L545 449L546 449L547 449L548 449L549 448.9L550 448.8L551 448.6L552 448.4L553 448.2L554 448L555 447.8L556 447.5L557 447.3L558 447L559 446.8L560 446.5L561 446.2L562 446L563 445.7L564 445.4L565 445.2L566 444.9L567 444.7L568 444.4L569 444.2L570 443.9L571 443.7L572 443.5L573 443.4L574 443.3L575 443.2L576 443.1L577 443.1L578 443.1L579 443.1L580 443.1L581 443.2L582 443.3L583 443.4L584 443.6L585 443.8L586 443.9L587 444.1L588 444.3L589 444.6L590 444.8L591 445L592 445.3L593 445.5L594 445.8L595 446.1L596 446.3L597 446.6L598 446.9L599 447.2L600 447.5L601 447.8L602 448.2L603 448.5L604 448.8L605 449.1L606 449.5L607 449.8L608 450.1L609 450.5L610 450.8L611 451.1L612 451.4L613 451.7L614 452L615 452.3L616 452.5L617 452.7L618 452.9L619 453.1L620 453.3L621 453.4L622 453.5L623 453.6L624 453.6L625 453.7L626 453.8L627 453.9L628 454L629 454.1L630 454.3L631 454.5L632 454.7L633 455.1L634 455.4L635 455.9L636 456.3L637 456.7L638 457.1L639 457.3L640 457.3L641 457.2L642 457L643 457L644 457.1L645 457.4L646 457.7L647 458.1L648 458.5L649 458.9L650 459.3L651 459.5L652 459.7L653 459.8L654 459.8L655 459.6L656 459.3L657 458.9L658 458.4L659 457.8L660 457.3L661 456.8L662 456.4L663 456L664 455.8L665 455.7L666 455.7L667 455.9L668 456.1L669 456.5L670 456.8L671 457.1L672 457.2L673 457.1L674 456.9L675 456.6L676 456.2L677 455.7L678 455.3L679 454.9L680 454.6L681 454.3L682 454L683 453.8L684 453.5L684.8 453.4" stroke="#000000"/>
<path d="M48 488.2L49 488.2L50 488.2L51 488.2L52 488.2L53 488.3L54 488.3L55 488.3L56 488.3L57 488.4L58 488.4L59 488.4L60 488.5L61 488.6L62 488.6L63 488.7L64 488.8L65 488.8L66 488.9L67 488.9L68 489L69 489L70 489L71 489L72 488.9L73 488.8L74 488.6L75 488.3L76 487.9L77 487.3L78 486.6L79 485.7L80 484.7L81 483.5L82 482.2L83 480.8L84 479.2L85 477.6L86 476L87 474.4L88 473L89 471.9L90 471.3L91 471.5L92 472.5L93 474.1L94 476.2L95 478.6L96 481.4L97 484.9L98 488.9L99 493.2L100 497.5L101 501.4L102 504.7L103 507.2L104 509.3L105 511L106 512.5L107 513.2L108 513.2L109 512.4L110 511.1L111 509.6L112 508.2L113 507L114 506.1L115 505.6L116 505.3L117 505.4L118 505.7L119 506.1L120 506.7L121 507.2L122 507.7L123 508L124 508.2L125 508.4L126 508.4L127 508.2L128 507.9L129 507.6L130 507.2L131 506.7L132 506.2L133 505.8L134 505.5L135 505.3L136 505.3L137 505.4L138 505.8L139 506.3L140 506.9L141 507.6L142 508.4L143 509.2L144 510L145 510.7L146 511.3L147 511.9L148 512.3L149 512.7L150 512.9L151 512.9L152 512.4L153 511.3L154 509.4L155 506.4L156 502.2L157 497.1L158 491.2L159 485.2L160 479.3L161 473.4L162 467.5L163 461.5L164 455.3L165 449.2L166 443.4L167 438.2L168 433.8L169 430.3L170 427.9L171 426.8L172 427L173 428.6L174 431.4L175 435.2L176 440L177 445.5L178 451.4L179 457.3L180 462.7L181 467.1L182 470.7L183 473.6L184 476.2L185 478.6L186 480.9L187 483.1L188 485.3L189 487.5L190 489.7L191 492.1L192 494.6L193 497L194 499.5L195 501.8L196 504.1L197 506.1L198 508L199 509.5L200 510.8L201 512L202 512.9L203 513.7L204 514.4L205 515L206 515.5L207 516.1L208 516.6L209 517.1L210 517.7L211 518.3L212 518.8L213 519.3L214 519.6L215 519.8L216 519.7L217 519.5L218 519.1L219 518.6L220 518.2L221 517.9L222 517.8L223 517.9L224 518.1L225 518.6L226 519.2L227 520L228 520.8L229 521.7L230 522.7L231 523.8L232 525L233 526.2L234 527.5L235 528.7L236 529.9L237 530.8L238 531.4L239 531.6L240 531.4L241 530.8L242 530L243 529.2L244 528.4L245 527.5L246 526.2L247 524.4L248 521.9L249 518.9L250 515.5L251 511.9L252 508.2L253 504.6L254 501.1L255 497.8L256 494.9L257 492.2L258 489.9L259 488L260 486.8L261 486.4L262 486.9L263 488.5L264 490.9L265 494.2L266 498.1L267 502.3L268 506.1L269 509.1L270 510.7L271 510.8L272 509.2L273 505.7L274 500.1L275 491.7L276 479.8L277 465.5L278 451.1L279 437.4L280 423.1L281 408.2L282 393.1L283 378.9L284 366.9L285 357.7L286 351.5L287 351.5L288 356.8L289 362.7L290 369.7L291 379.2L292 390.6L293 403L294 415.2L295 426.8L296 438.2L297 449.5L298 460.2L299 469.5L300 477.1L301 482.9L302 487L303 490L304 492.3L305 494.3L306 496L307 497.6L308 499L309 500.3L310 501.4L311 502.2L312 502.9L313 503.2L314 503.3L315 503.1L316 502.7L317 502L318 501.1L319 500.1L320 499.1L321 498L322 497L323 496L324 495.2L325 494.4L326 493.8L327 493.4L328 493.1L329 493L330 493.1L331 493.2L332 493.3L333 493.3L334 493.2L335 492.9L336 492.5L337 492L338 491.5L339 490.9L340 490.4L341 490L342 489.8L343 489.7L344 489.8L345 490.1L346 490.5L347 491.1L348 491.7L349 492.4L350 493.2L351 493.9L352 494.7L353 495.4L354 496.1L355 496.7L356 497.2L357 497.8L358 498.2L359 498.7L360 499.2L361 499.6L362 500L363 500.4L364 500.8L365 501.2L366 501.6L367 501.9L368 502.1L369 502.3L370 502.3L371 502.2L372 502L373 501.7L374 501.4L375 501L376 500.5L377 500L378 499.6L379 499.1L380 498.5L381 498L382 497.5L383 496.9L384 496.4L385 495.8L386 495.1L387 494.5L388 493.8L389 493.1L390 492.3L391 491.6L392 490.8L393 490.1L394 489.4L395 488.7L396 488.1L397 487.6L398 487.1L399 486.7L400 486.4L401 486.2L402 485.9L403 485.7L404 485.5L405 485.3L406 485L407 484.7L408 484.4L409 484.2L410 484L411 483.9L412 483.9L413 484L414 484.4L415 484.8L416 485.4L417 486.2L418 486.9L419 487.8L420 488.7L421 489.7L422 490.6L423 491.5L424 492.4L425 493.2L426 493.9L427 494.5L428 494.9L429 495.2L430 495.3L431 495.2L432 494.9L433 494.5L434 494L435 493.4L436 492.7L437 491.9L438 491L439 490.1L440 489.2L441 488.2L442 487.3L443 486.3L444 485.3L445 484.4L446 483.4L447 482.6L448 481.8L449 481.1L450 480.6L451 480.3L452 480.2L453 480.3L454 480.7L455 481.3L456 482L457 482.9L458 484L459 485.2L460 486.4L461 487.5L462 488.6L463 489.4L464 489.9L465 490.3L466 490.5L467 490.6L468 490.6L469 490.6L470 490.5L471 490.5L472 490.6L473 490.8L474 491.1L475 491.5L476 492L477 492.5L478 493L479 493.5L480 494L481 494.4L482 494.7L483 494.9L484 495.1L485 495.2L486 495.2L487 495.2L488 495.2L489 495.1L490 494.9L491 494.7L492 494.4L493 494L494 493.6L495 493.1L496 492.5L497 491.8L498 491L499 490.1L500 489.2L501 488.2L502 487.2L503 486.2L504 485.1L505 484L506 482.9L507 481.8L508 480.8L509 479.7L510 478.7L511 477.8L512 477L513 476.2L514 475.5L515 474.9L516 474.5L517 474.2L518 474L519 474L520 474.2L521 474.5L522 475L523 475.7L524 476.5L525 477.5L526 478.6L527 479.9L528 481.2L529 482.6L530 484L531 485.4L532 486.8L533 488.1L534 489.3L535 490.4L536 491.4L537 492.4L538 493.2L539 493.9L540 494.6L541 495.1L542 495.6L543 495.9L544 496.2L545 496.4L546 496.5L547 496.5L548 496.4L549 496.3L550 496.1L551 495.9L552 495.6L553 495.3L554 495.1L555 494.8L556 494.5L557 494.3L558 494L559 493.8L560 493.6L561 493.3L562 493.1L563 492.8L564 492.6L565 492.3L566 492L567 491.7L568 491.3L569 491L570 490.6L571 490.3L572 489.9L573 489.6L574 489.3L575 489.1L576 488.9L577 488.7L578 488.5L579 488.4L580 488.4L581 488.3L582 488.3L583 488.2L584 488.2L585 488.2L586 488.2L587 488.2L588 488.2L589 488.2L590 488.2L591 488.1L592 488.1L593 488.1L594 488.1L595 488L596 488L597 488L598 488.1L599 488.1L600 488.2L601 488.3L602 488.4L603 488.5L604 488.6L605 488.7L606 488.8L607 488.9L608 489L609 489.1L610 489.1L611 489.1L612 489.1L613 489L614 488.9L615 488.7L616 488.5L617 488.3L618 488.1L619 487.9L620 487.8L621 487.7L622 487.7L623 487.8L624 487.9L625 488.1L626 488.4L627 488.6L628 488.8L629 488.9L630 489L631 489L632 489L633 488.9L634 488.7L635 488.6L636 488.4L637 488.3L638 488.2L639 488.2L640 488.2L641 488.3L642 488.5L643 488.7L644 489L645 489.4L646 489.7L647 490.1L648 490.5L649 490.9L650 491.3L651 491.6L652 491.9L653 492.1L654 492.2L655 492.2L656 492L657 491.8L658 491.4L659 491L660 490.6L661 490.2L662 489.8L663 489.4L664 489.1L665 489L666 488.9L667 489L668 489.1L669 489.2L670 489.4L671 489.5L672 489.7L673 489.7L674 489.8L675 489.7L676 489.7L677 489.5L678 489.4L679 489.1L680 488.9L681 488.6L682 488.4L683 488.1L684 487.7L684.8 487.5" stroke="#000000"/>
</g>
<!-- arrow -->
<g>
<path d="M221.5 217.5 H231.1 V262.5 H235 L226.3 271.5 L217.5 262.5 H221.5 Z" fill="#000" opacity="0.22" filter="url(#sh)"/>
<path d="M220.8 216.3 H230.4 V261 H234.4 L225.6 269.8 L216.8 261 H220.8 Z" fill="url(#ag)"/>
<path d="M221.4 216.6 H229.8 L225.6 220 Z" fill="#fbb4b6" opacity="0.9"/>
<path d="M219.4 261.9 L221.6 262.7 M231.8 261.9 L229.6 262.7" stroke="#fba4a4" stroke-width="0.9" opacity="0.8" fill="none"/>
</g>
<g font-size="27.4" text-anchor="middle" fill="#000"><text x="48.0" y="593">0</text><text x="111.8" y="593">1</text><text x="175.5" y="593">2</text><text x="239.3" y="593">3</text><text x="303.1" y="593">4</text><text x="366.9" y="593">5</text><text x="430.6" y="593">6</text><text x="494.4" y="593">7</text><text x="558.2" y="593">8</text><text x="621.9" y="593">9</text><text x="686.2" y="593">10</text></g>
<text x="364.8" y="639" font-size="33.6" font-weight="bold" text-anchor="middle" fill="#000">r /Å</text>
<text transform="translate(24.6 273) rotate(-90)" font-size="34" font-weight="bold" text-anchor="middle" fill="#000">G(r) /arb. unit</text>
<text x="448.6" y="110.8" font-size="30.9" font-weight="bold" fill="#7030a0">UV- white 550 P</text>
<text x="503.5" y="531.3" font-size="30.6" font-weight="bold" fill="#7f7f7f">UV- white P</text>
<g font-size="19" font-weight="bold">
<text x="692" y="144.9" fill="#7030a0">30 °C</text>
<text x="692" y="200.7" fill="#8443b7">550 °C</text>
<text x="692" y="223.3" fill="#7738a8">540 °C</text>
<text x="692" y="247.1" fill="#672d96">530 °C</text>
<text x="692" y="276.7" fill="#5a2785">520 °C</text>
<text x="692" y="312.3" fill="#4e2176">510 °C</text>
<text x="692" y="350.3" fill="#441c69">500 °C</text>
<text x="692" y="372.1" fill="#3a175c">490 °C</text>
<text x="692" y="395.9" fill="#000">480 °C</text>
<text x="692" y="416.4" fill="#000">470 °C</text>
<text x="692" y="437.2" fill="#000">460 °C</text>
<text x="692" y="456.8" fill="#000">450 °C</text>
<text x="692" y="493.4" fill="#000">30 °C</text>
</g>
</svg>
</body>
</html>
